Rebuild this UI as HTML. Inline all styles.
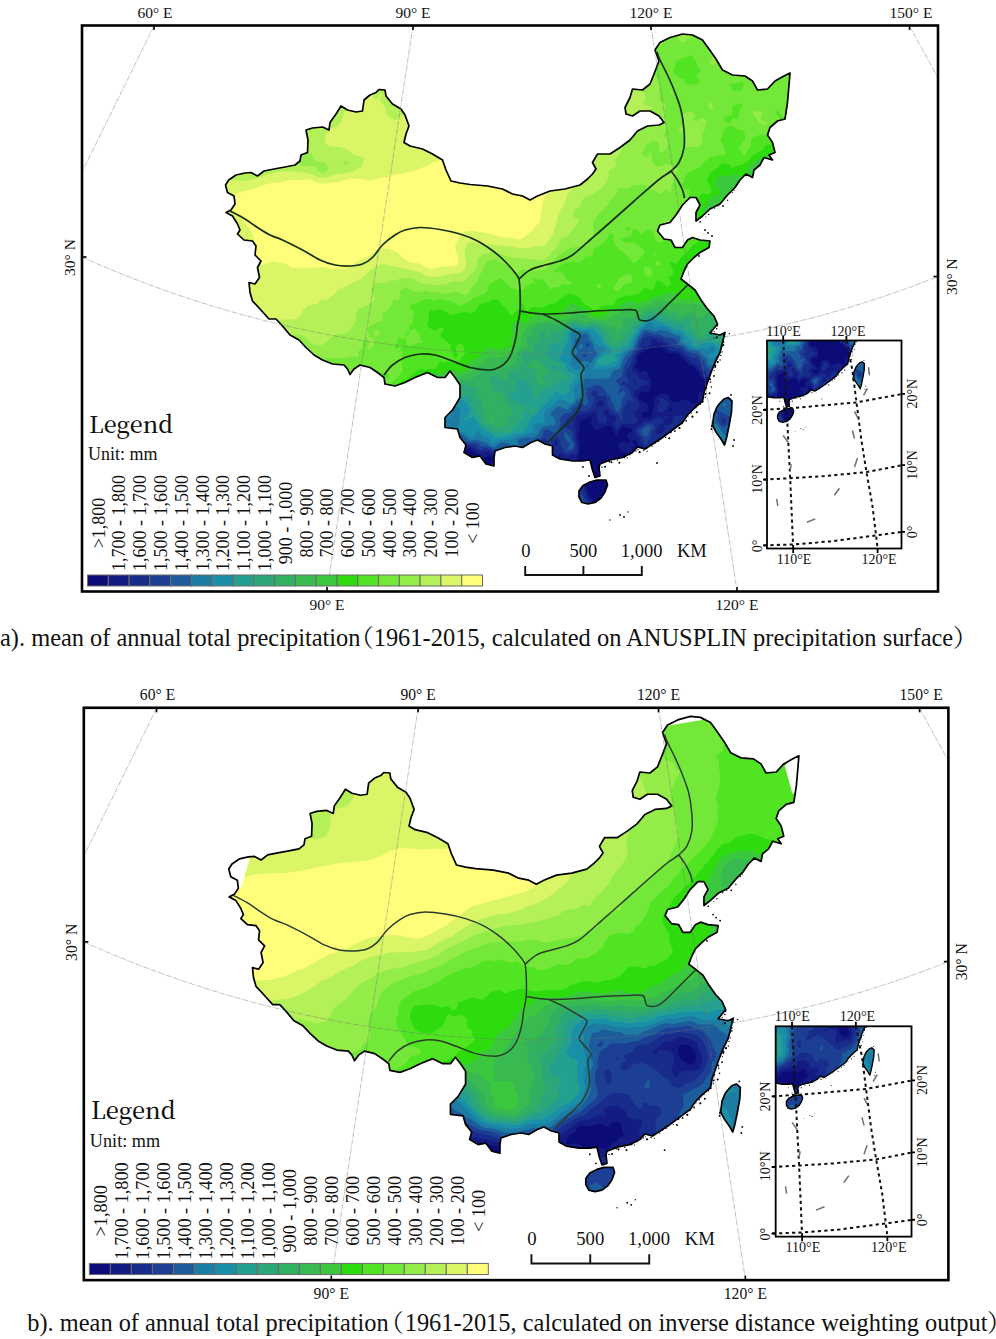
<!DOCTYPE html><html><head><meta charset="utf-8"><title>Precipitation maps</title>
<style>html,body{margin:0;padding:0;background:#fff}svg{display:block}</style></head><body>
<svg width="996" height="1339" viewBox="0 0 996 1339">
<rect width="996" height="1339" fill="#fff"/>
<g><clipPath id="cpA"><path d="M225.5,185 228.7,180 236,175 245,173 251,172.5 257.5,176 264,171 274,169 285,167 295,165 300,161 301,155 307.5,152.5 308,140 306,130 312.5,128 322.5,127 329,130 330,122.5 336,114 341,106 347.5,110 356,112 362.5,111 364,100 370,95 376,92.5 379,89.5 385,90 386,96 392.5,104 401,109 405,115 409,126 406,134 404,142.5 410,146 422.5,149 432.5,154 442.5,160 446,170 451,181 460,183 470,184.5 487.5,186 502.5,189 512.5,194 522.5,196 530,200 537.5,196 550,191 565,189 580,185 587.5,179 592.5,174 596,169 592.5,162.5 597.5,154 610,154 620,147.5 630,140 637.5,131 647.5,126 659,125 664,122.5 659,116 650,111 640,111 632.5,116 626,114 625,107.5 630,97.5 632.5,89 642.5,90 650,84 654,74 659,61 655,50 660,42.5 670,37.5 682.5,34 692.5,35 702.5,40 709,49 716,59 722.5,70 732.5,75 745,76 752.5,81 757.5,90 767.5,89 775,81 784,76 790,73 789,85 787.5,102.5 785,119 777.5,121 770,127.5 767.5,135 772.5,142.5 775,152.5 769,155 772.5,160 764,157.5 760,165 754,170 752.5,177.5 746,174 740,180 735,187.5 727.5,195 720,204 710,209 702.5,216 696,221 696,212.5 700,205 696,197.5 690,197.5 682.5,205 676,215 670,222.5 660,225 657.5,231 664,239 671,240 675,247.5 682.5,247.5 687.5,240 692.5,237.5 700,240 710,241 709,247.5 700,252.5 694,257.5 687.5,264 684,271 681,279 687.5,284 695,290 701,300 707.5,309 714,316 717.5,324 712.5,330 710,333 720,335 725,332.5 722.5,342.5 720,352.5 715,362.5 711,372.5 707.5,382.5 704,392.5 702.5,401 695,407.5 687.5,415 682.5,422.5 672.5,430 662.5,437.5 655,442.5 645,449 637.5,447 632.5,452.5 622.5,457.5 610,460 600,464 599,467.5 600,476 595,477.5 592.5,470 590,460 582.5,461 572.5,461 560,459 552.5,455 552.5,446 545,444 537.5,440 531,442.5 522.5,447.5 515,446 505,447.5 495,451 494,457.5 494,466 486,464 480,456 472.5,457.5 464,452.5 466,445 460,437.5 457.5,429 445,427.5 445,417.5 452.5,410 460,397.5 460,385 455,377.5 450,371 445,377.5 437.5,377.5 427.5,372.5 415,377.5 405,382.5 395,386 385,384 384,377.5 377.5,372.5 370,367.5 360,365 354,369 350,374.5 347.5,369 344,365 332.5,364 322.5,360 314,355 306,347.5 299,340 290,335 282.5,326 276,319 269,319 260,309 252.5,301 250,292.5 249,282.5 255,284 259.5,277.5 257.5,267.5 261,261 255,255 256,246 252.5,241 244,240 237.5,234 240,230 237.5,224 232.5,216 226,212.5 231,210 235,204 234,196 227.5,192.5ZM720,403 724,399 728,397.5 732,401 731.5,412 729,426 726.5,438 724.5,445 721,439 716,432 712.5,425 714,414 717,407ZM579,491 583,485.5 590,482 597,480 606,480 607.5,485 605,492 601,498 595,502.5 588,504 582,502.5 579,497Z"/></clipPath><defs><path id="outA" d="M225.5,185 228.7,180 236,175 245,173 251,172.5 257.5,176 264,171 274,169 285,167 295,165 300,161 301,155 307.5,152.5 308,140 306,130 312.5,128 322.5,127 329,130 330,122.5 336,114 341,106 347.5,110 356,112 362.5,111 364,100 370,95 376,92.5 379,89.5 385,90 386,96 392.5,104 401,109 405,115 409,126 406,134 404,142.5 410,146 422.5,149 432.5,154 442.5,160 446,170 451,181 460,183 470,184.5 487.5,186 502.5,189 512.5,194 522.5,196 530,200 537.5,196 550,191 565,189 580,185 587.5,179 592.5,174 596,169 592.5,162.5 597.5,154 610,154 620,147.5 630,140 637.5,131 647.5,126 659,125 664,122.5 659,116 650,111 640,111 632.5,116 626,114 625,107.5 630,97.5 632.5,89 642.5,90 650,84 654,74 659,61 655,50 660,42.5 670,37.5 682.5,34 692.5,35 702.5,40 709,49 716,59 722.5,70 732.5,75 745,76 752.5,81 757.5,90 767.5,89 775,81 784,76 790,73 789,85 787.5,102.5 785,119 777.5,121 770,127.5 767.5,135 772.5,142.5 775,152.5 769,155 772.5,160 764,157.5 760,165 754,170 752.5,177.5 746,174 740,180 735,187.5 727.5,195 720,204 710,209 702.5,216 696,221 696,212.5 700,205 696,197.5 690,197.5 682.5,205 676,215 670,222.5 660,225 657.5,231 664,239 671,240 675,247.5 682.5,247.5 687.5,240 692.5,237.5 700,240 710,241 709,247.5 700,252.5 694,257.5 687.5,264 684,271 681,279 687.5,284 695,290 701,300 707.5,309 714,316 717.5,324 712.5,330 710,333 720,335 725,332.5 722.5,342.5 720,352.5 715,362.5 711,372.5 707.5,382.5 704,392.5 702.5,401 695,407.5 687.5,415 682.5,422.5 672.5,430 662.5,437.5 655,442.5 645,449 637.5,447 632.5,452.5 622.5,457.5 610,460 600,464 599,467.5 600,476 595,477.5 592.5,470 590,460 582.5,461 572.5,461 560,459 552.5,455 552.5,446 545,444 537.5,440 531,442.5 522.5,447.5 515,446 505,447.5 495,451 494,457.5 494,466 486,464 480,456 472.5,457.5 464,452.5 466,445 460,437.5 457.5,429 445,427.5 445,417.5 452.5,410 460,397.5 460,385 455,377.5 450,371 445,377.5 437.5,377.5 427.5,372.5 415,377.5 405,382.5 395,386 385,384 384,377.5 377.5,372.5 370,367.5 360,365 354,369 350,374.5 347.5,369 344,365 332.5,364 322.5,360 314,355 306,347.5 299,340 290,335 282.5,326 276,319 269,319 260,309 252.5,301 250,292.5 249,282.5 255,284 259.5,277.5 257.5,267.5 261,261 255,255 256,246 252.5,241 244,240 237.5,234 240,230 237.5,224 232.5,216 226,212.5 231,210 235,204 234,196 227.5,192.5ZM720,403 724,399 728,397.5 732,401 731.5,412 729,426 726.5,438 724.5,445 721,439 716,432 712.5,425 714,414 717,407ZM579,491 583,485.5 590,482 597,480 606,480 607.5,485 605,492 601,498 595,502.5 588,504 582,502.5 579,497Z"/></defs><g id="fillA" clip-path="url(#cpA)"><rect x="215" y="25" width="590" height="495" fill="#FEFE7A"/><path fill="#DAF566" d="M215,25 801,25 801,515 215,515ZM469,137.2 467.6,139 469,140.1 469.8,139ZM543,123 537,126.4 535.4,129 535.4,133 534.8,135 531,136.2 529,139 527,139.8 525,138.8 521,138.9 519,138.1 515.4,133 511,132.9 509,132 507,129.9 503,129 498.3,125 495,124.4 491,124.8 487.7,133 482.9,135 482.8,137 486.3,143 483,145.4 481,146.4 477,143.3 473,142.3 469,144.6 465,141.7 461,141 458.9,141 455,143 449,144.8 447.6,143 445,142.3 443.9,143 443.2,145 443.8,151 443.2,153 440.7,159 439,160.7 433,162.1 429,165 421,168.1 415,171.1 407,172.2 403,173.8 397,173.7 389,177.1 381,177.5 375,179.6 369,180.4 361,179 351,178.5 339,181.7 323,183.5 319,183.3 311,179.8 307,179.4 301,180.1 291,179.8 279,182.6 269,183.5 263,185.3 255,188.5 236.7,193 235.1,195 235.8,199 235.6,201 230.7,207 230.2,209 235,215 239,215.9 240.5,217 241.6,219 246.5,225 249,227.1 250.1,229 253.9,237 254,241 251.8,247 254.2,257 258.7,261 261,264.4 263,264.9 273,261.3 275,261.4 287,264.2 291,267.7 293,268.2 301,267.4 307,268.7 313,267.3 317,268.1 323,267.1 329,268.4 345,269.1 349,267.6 355.2,263 361,259.6 371,255.2 375,250.5 387,248.3 389,248.7 397,252.1 401.8,257 409,262.2 419,263.6 429,268.6 431,268.9 441,266.6 451,266.5 455,265.9 457,264.7 458.1,263 458.5,261 455.5,249 455.5,245 457,241.4 460.8,235 465,231.6 467,231 473,230.7 487,233.3 497,235.6 501,237.1 509,237.6 519,239.4 521.3,239 533,230.1 539,222.3 540.6,219 540.8,213 542,209 543,201.4 547,193 547.2,189 550.9,185 550.6,183 547.7,181 547.4,179 549,177.5 553,176 553.7,175 553,171.6 549.9,169 549,165.7 546.9,163 546.8,161 549,157 549.5,155 550.7,147 549.7,141 549.8,137 548.9,129 548.1,127 547.6,123 547,122.3 545,121.8ZM448.9,149 449.2,151 448,151Z"/>
<path fill="#B4F058" d="M215,25 343,25 343.9,29 343.7,35 344.2,37 347,39.4 348.4,51 351.6,55 353,58.9 355,57.6 357,55.4 359,56.5 359.7,59 359.4,63 363,64.8 365.3,69 365,71 363.6,73 363.6,75 365,76 367,75.8 369,75 373,74.3 375,71 381,64.1 383,63.7 386,65 386.6,67 385,71 384.6,75 383,76.6 379,77.9 378,79 378.2,81 381,83.6 385,84.2 389.2,87 390.4,89 390.4,91 389,91.7 388.1,93 388.4,95 389,95.6 391.1,95 391.8,93 391.5,91 395,89.4 397,90.5 398.9,93 401.9,95 403,96.3 405,101 408.1,105 408.1,107 407.2,109 402.3,115 397,119.5 395,120 391,118.1 387,114.9 384.9,107 380.1,101 379.5,99 381.8,95 381,93.5 379,94.3 378.7,97 377.2,99 375,99 373,97.1 372.3,95 365,89.4 360.9,91 353,97.7 351.4,101 350.7,105 347,108.3 344.2,113 341.8,121 339,124.8 337,126.6 331,127.9 329.4,129 325.7,135 324.6,139 324.8,141 325.8,143 329,145.9 333,147 339,146.7 341,147.2 349,150.4 353.9,155 363.2,157 364.2,159 363.9,161 361.1,167 353,171.4 347,172.8 335,174.3 328.6,177 325,177.9 319,177.4 311,174 307,173 295,171.5 285,171.8 281,170.9 263,175.7 257,178.3 245,181 241,181.2 227,179.6 221,180.6 215,179ZM373,75.5 371,77.4 370.3,79 370.4,81 371,82.3 373,82.3 376.4,79 375.1,77ZM358.9,25 372.9,25 377,28.7 379,28.9 383,27.7 383.6,25 448.2,25 449.2,31 448.9,33 447,34.4 443,35.3 439,33.7 437,33.5 435,31.7 433,30.9 426.9,37 425.8,39 425,43.4 423,43.7 417,40.4 415,40.5 410.7,45 409,50.8 407,52.8 405,50.7 403,49.7 401,49.7 398.3,53 397,53.6 395,52.6 393.9,49 393,48 389,45.6 386.1,43 383.4,39 382.9,37 381,35.6 379,36 375,38 371,38.3 365,35 359.8,31 358.8,29ZM488.2,25 489,25 492.7,25 491,27 489,26.4ZM557.1,25 801,25 801,515 215,515 215,279.3 217.3,283 221,286.7 221.6,291 223,292.9 225.6,295 229,299.1 233,300.3 237,304.5 240.9,311 242.2,315 245,318.7 247,319.2 252.6,317 255,314.2 257,313.4 261,314 267,318.8 269,319.2 271,317.9 273,317.7 275,319.9 277,320.3 289,318.9 293,319.7 297,318.2 300.9,315 302.4,313 303,310.5 306.3,307 309,305 317,304 318.7,303 319.8,301 323,299.5 327,299.9 335.7,293 338.2,289 343,288.3 347,285.5 360,279 365,275.7 367.1,273 373,268.2 381,263.9 385,264.2 389,265.5 417,271.3 421,272.7 425,275.6 427,276.2 435,277 439,276.9 445,275 461,272.5 463.4,271 465,269.1 466.2,263 464.8,255 464.8,249 466.2,245 469,242.4 475,242.2 483,245.7 491,244.6 511,246.8 521,248.6 529,247.9 535,246.3 541,246.2 545,245 547.3,243 553,233.8 556,225 557.7,217 560.9,209 564,205 564.8,203 565.5,199 566.9,195 570.1,191 573,188.5 575.7,187 579,184.1 585,182.1 586.1,181 587,179 587.2,177 586.5,169 587.6,167 591,165 589.7,161 590.1,159 591.2,157 594.1,155 595.2,153 592.9,149 601.2,141 600.5,139 598.1,137 597.8,135 599,133 601,131.6 605,130.9 607,129.4 605.5,123 607.8,119 606.4,115 607.1,111 606.3,109 605,107.4 603.6,107 603,105.9 602.4,107 601,107.4 599,107.5 598.7,107 599,105 601,103.8 603,104.4 603.9,103 604.8,99 604.5,97 603,94.6 599,94.7 597.1,93 596.6,89 595.5,87 591,84.2 585,83.4 583,83.4 579,86.7 577,86.4 567.1,81 563,77 565,74 569,70.5 571,63 571,59 571.9,57 573,55.2 575,53.9 577,54.2 579,53.2 580.7,49 579.1,47 577,46.7 573,49.5 567.4,45 565.9,41 566.5,35 565,33 563,32.3 559.3,29 557.8,27ZM321,306.6 320.7,307 321,308.5 321.2,307ZM441.6,41 443,39.6 443.7,41 443,44 441.7,43ZM428.4,51 431,50 435,49.5 436.5,51 435.6,53 433,55.5 431,55.2 429,53.4ZM396.5,85 397.6,85 398.2,87 397,88.5 396,87ZM423.5,91 425,90.3 427,90.5 428.7,95 428.8,97 427,98.8 425,99.6 421,100 419.5,101 419.4,103 418.2,105 417,105.4 416.1,105 415,104.3 412.9,101 412.5,99 413,95.9 419,97.2Z"/>
<path fill="#94EC48" d="M612.5,27 614.5,25 801,25 801,515 215,515 215,358 219,358.8 221,357.7 222,355 222.4,351 223.5,349 231,342.8 237,345 238.4,347 237.3,351 237.9,353 241,355.5 245,357.7 248.9,359 251,360.5 253,360.5 254.1,359 254.1,357 252.7,355 252.3,353 252,351 253,349.8 255,350 255.9,351 256.5,353 256.3,355 257.1,357 259,358.4 261,358.8 263,358.4 265,357.7 267,355.7 269,351.9 271,350.2 277,349.8 281,347.2 285,346.9 287,345.7 288.8,343 291.3,337 293,335.8 297,334.8 303,335.9 305,336.8 309,340.9 315,344.8 322.3,345 335,334.4 345,333.9 347,332.7 351,329 355.7,321 356.3,313 356.8,311 358.2,309 368,305 373.4,301 375.1,299 374.4,297 371.5,293 371.2,291 371.5,289 373.1,285 375,283.6 379,282.7 385,283 391,280.3 393,279.9 395,280.9 397,280.5 398.7,279 401,278.2 405,278.4 409,277.5 413,278.4 421,283.4 423,284 429,283.6 435,285.4 447,284.3 451,281.8 453,281.4 461,282 467,279.6 468.4,277 475,270.3 476.4,267 477.5,259 479,257.2 482.6,255 491,252.6 499,253.4 513,257.9 521,258 533,259.6 535,259.4 541,261 545,259.7 552.7,251 555,249.4 557,247 559.3,243 561,238.6 563,237.1 567,236.8 573,229.8 577.8,223 578.7,221 577.5,219 574.3,217 573,215.3 573,214.5 574.3,211 579.6,207 582,201 586,197 591,195.1 603,187 607.9,179 609,177 609.2,175 608.5,171 615.1,167 616.5,165 615.2,161 615.6,159 619.1,155 625.3,141 627,138.4 632.5,135 633.9,133 634.4,129 634,127 631.7,123 631.4,119 639,113.9 649,112.1 650.4,111 651,109.4 651,106.8 649,105.8 644.3,105 643.3,103 645.1,101 645.9,99 645.4,97 642.1,91 643,89.3 645,88.8 646.1,87 646.1,83 645.2,81 640.8,79 638.5,73 635,69.2 631,63.5 629,64.2 627,62.9 625,57 621,50.2 617.9,47 617.7,43 617,41.5 613,39 612.6,37 608.7,29ZM255,365.1 253.6,367 253.3,369 253.6,371 255,371.7 257,371.2 259.6,369 260.2,367 257,365.2ZM215,95 215,93.5 216.7,95 216.4,99 217.2,103 216,105 215,105.4ZM215,117 217,118.4 221,124 225,125.9 227,126 231,123.7 233,123.9 237,126.1 245,126.7 251,128.4 255,128.8 261,127.6 263,127.8 265.4,129 265,130 261,131.5 257,134 253,133.8 250.7,135 248.6,143 249.1,145 248.8,147 247,149.1 245,150.1 243,148.2 241,148.4 239,150.4 233,154 231,152 229,151.5 227,156.8 225,156.5 223,154.7 221,155.3 218.9,153 215,151.9ZM262.8,139 265,138.2 266.9,139 270.6,143 271,145 269.2,147 267,147.9 262.4,141ZM273.1,145 275,143.7 281,145 287,145.3 289,147.3 291,147.3 293,146.3 295,146.1 301,148.2 307,151.1 312.1,155 315,160.5 317,161.3 323,161.8 325,162.8 328.1,167 328.1,169 325,172.3 323,173.1 321,172.8 318.1,171 315,167 313,165.9 305,166.4 303,166.1 300.3,165 297,161.7 295,160.5 291,160.5 287,161.5 283,160.6 279,158.9 273,160.3 270.9,159 271,157 273.5,151ZM240.9,157 243,156.6 245,159 245.1,161 243,162 239.8,161 239.5,159ZM343.5,163 345,161.3 347,161.7 347.8,163 347,165.3 345,165.4 344.3,165Z"/>
<path fill="#74E838" d="M668.2,25 679.5,25 679.3,27 681.4,33 678.2,37 677.9,39 679,41.2 685,42.3 687.7,39 691.3,37 692.4,35 692,29 690,25 697.5,25 696.9,29 698.6,33 702.4,39 705,40.8 706.2,39 705.8,35 706.3,33 709.4,29 713.7,25 801,25 801,515 215,515 215,390.3 217,390.1 219.4,389 219.7,387 219.3,385 220.2,383 225,381.3 229,379 233,379.7 237,378.9 239,381 239.3,385 241,387 243,387.8 245,387.8 246.3,387 247.4,383 255,382.8 259.3,381 267,379.2 271,375.4 273,374.7 285,374.3 287,373.1 289,369.2 291.6,367 292,365 293.4,363 297,362.6 299,363.4 301.9,365 305,368 307,366.8 311,367.7 313,367 315,362.6 317,361.2 329,357.2 333,358.4 337,357.5 341,359 349,356.5 357.7,357 358.6,355 358,353 358.7,351 360.9,349 362,347 362.5,343 363.3,341 365,339 367,338.3 369.4,343 369,345 367.6,347 367.6,349 369,350.1 372.4,347 373.7,345 374.6,341 373.6,339 368.9,337 367.8,329 368.5,327 377,322 381,321.9 382.4,321 382.9,319 382.3,315 383.1,313 389.2,309 391.9,305 393,301.1 395,299.9 397,300.6 399,300.4 399.8,299 400.3,291 402.7,289 407,287.6 411,290.4 417,292 427,290.5 431,292 437,292.3 445,293.8 447,293.7 453,291.9 457,291.9 465.4,295 467,294.4 468.5,293 470,291 471.7,287 477.1,281 478.7,277 482.3,271 485,263.7 489,260.4 493,259.2 495,259.1 497,260 499,262 505,263.8 508.9,267 510.3,269 512.7,271 517,273.1 521,269.9 523,269.5 537,270.8 545,268.9 547.8,267 554.8,259 567,249.4 573,247.6 585,246.1 587,244.9 591,239.3 593.5,237 593.8,231 593.1,225 593.7,221 599,213.5 605,207.2 608.1,205 611,199.4 614,197 616.4,193 617.9,189 619,187.7 621,187.4 627,189 629,188 631,186.2 633,185.4 643,184.7 647,186 651,189.5 655,190.8 661,193.8 665,189.4 667,189.3 669,191.5 671,192.4 671.5,189 671.2,185 674.8,179 675.2,175 677.8,169 677,166.1 675,164.9 671,166.1 667,164.1 665,164 661,166.2 657,166.6 654.7,165 652.2,161 651.2,157 651.6,155 651.5,153 651,152.4 649,152.9 648.6,155 647,157 645,157 643,155.8 641.9,153 644.3,149 644.6,147 646.3,145 651,141.6 653,140.9 657,142.1 659,143.9 659.6,145 658.7,149 659,151 661,152.5 663,152 667.5,147 667.9,139 667,137.9 664,137 663.7,135 665.4,131 666.3,125 665.1,121 665.3,117 664.2,111 665.5,107 665,104.9 663,102.5 660.4,101 659.4,99 659.7,95 659.1,89 660.2,85 657.2,81 653.4,69 652.8,67 654.2,63 651,55 651.2,53 652.1,51 654.2,49 658.8,47 667,39.8 668.7,39 669.4,33 668.1,27ZM671,90.4 670.3,91 669.8,93 671,95.1 672.8,93ZM687,112.1 681.6,115 681.1,117 683.2,121 683.2,123 681.9,125 678.8,127 678.6,129 684.1,137 684.2,145 685,146.8 687,147.2 691,146.5 697,147.8 699,147.3 702.3,143 703,141 701.6,137 701.7,135 702.4,133 705.1,129 705.2,125 706.7,121 705,118.9 701,117.5 697.9,121 695,121 692.8,119 695.1,115 693.8,113 691,111.2ZM707,42 706.5,43 706.8,45 709,51.3 711.6,55 712.3,57 712,59 709.8,61 709.5,63 711,64.7 713,65.1 716.4,63 718.2,59 718.2,57 717,54.4 714.3,51 715.4,47 714.5,45 711,42.5ZM755,110.1 753,111.5 752.4,113 754.9,117 760.1,123 763,125 765,125.5 766.3,125 767,123.9 767,122.5 765,121.1 761,120 760.3,119 762,113 761,111.2 757,111.2ZM375,330.9 373.6,333 374.3,335 377,336.2 379,334.8 379.5,333 379,331.1 377,329.9ZM665,220.6 664.1,223 664.3,225 665,226.1 667.5,227 669,226.6 670.9,225 671,223 669,221.3 667,220.2ZM709,100.9 708.6,107 711,109.5 713,109.3 713.2,107 711.9,105 711,101Z"/>
<path fill="#50E422" d="M769.2,25 782.6,25 785,28.2 787,28.6 791,27.7 791.8,31 790.7,33 791,33.5 793,33.2 795,31.8 797,31.4 801,32 801,47.7 797,48.6 795,48 793,46.3 791,45.7 787,47.5 785,46.6 782.5,43 781,41.8 779,41.9 777,43.3 773,48.9 769,45 768.8,39 766.7,35 766.5,33 768.8,29ZM783,32.1 781.4,33 779.9,35 780.7,37 783,37 784.9,35 785,33ZM733.7,45 735,44.6 735,47.7 733,50.1 731,49.6 730.9,49ZM746.6,49 749,48.6 751.2,51 751,53.7 749.9,57 747,59.7 743,60.2 741.3,61 739,66.3 737,67.1 733,65.2 731.5,61 731.5,59 733,56.5 735,56.6 737,58 739,58.4 740.8,53ZM691,55 693,57 693.3,59 696.1,61 697,65.7 697.6,67 699.9,69 700.3,71 697.2,75 696.8,77 697,77.7 699.2,79 700,81 699,83 695,84.4 689,84.5 687,83.9 685.8,83 683,78.6 681,78.6 675,74.4 673.6,73 672.9,71 675.2,67 675.6,65 675.2,63 675.9,61ZM767.9,57 769,55.8 771,55.2 777,55.5 779.2,57 779.2,61 781,61.9 785,62 785.7,63 785.5,65 783.5,67 777,68.3 776.5,73 771,81 765.8,77 764.9,75 764.8,69 766.2,61ZM746.7,73 747.7,75 747,79.6 746.3,79 746,75ZM800.4,73 801,72.8 801,515 215,515 215,462.9 219.1,461 220,459 219.3,453 217,451.2 215,450.8 215,399.5 221,398.7 227,396.3 229,396.2 233,397.2 235,396.8 239,394.7 241,394.5 243.6,395 247,397.1 249,397.5 251,397.2 253.9,395 259,392.4 261,392.7 266.5,395 271,400.1 273,401 277,399.3 279,399.4 282.6,401 285,403.2 291,404.5 293.9,403 295.5,401 300.1,397 303,392 309,391.1 315,392 321,385.2 325,381.9 328,373 331,371.4 335,370.3 343,371.8 351,374.4 365,380.5 367,380.8 371,376.7 373,375.9 377,373.1 385,373.9 387,373.2 389,373.8 389.4,375 389,378 385,379.3 383,380.8 379,381.5 377,383 379,384.3 383,383.9 387,384.5 391,384.1 392.2,383 392.8,381 395,379.7 402.8,371 402.8,369 401.8,367 401.5,359 403,353 401.3,349 401.5,345 401,344 398,345 399.1,347 397,349 395,347.7 394.8,345 397,343.5 397.8,339 399,337.9 403,339.3 404.5,339 404.8,335 409,331 409,327 409.7,325 413.2,323 413.2,321 412.4,319 414,313 413.7,311 410.6,309 409.2,307 411.1,305 419,302.4 425,299 429,299 435,300.8 439,298.8 441,298.9 445,300.2 449,300.5 459,305.5 461,305.5 469,301.8 473,298.5 485.9,293 487.4,291 488,287 489,285 491,283.2 499,278.8 501,278.8 511,288.4 515,289.1 519,291.1 523,289.3 527,285.8 531,283.4 535.5,283 533,280.2 533,278.3 535,278.1 537,279.4 541,279.6 543.6,281 547,283.5 549.4,289 551,289.1 555,286.9 559,287.1 563,284 570.4,285 571,284.6 571.5,283 567,279.8 563,273.2 561,271.9 559,271.4 555,272.4 554.2,271 557,269 560.9,265 564.8,263 573,261.3 575,261.4 579,262.8 584.4,259 585,256.7 587,256 589,256.6 591,256.4 593.4,253 594.2,249 599,246.4 605.3,241 607,239 609,234.3 611,233.4 613.6,235 614.1,237 613.2,241 615,244.9 619,249.6 623,252.1 628.7,257 633,263 635,263.1 636.5,261 641.3,257 643.8,253 644.3,251 643.3,249 638.2,245 633,242.3 627,242.5 623,241.6 620.4,239 621,238.3 627,237.6 631,235.6 632.2,233 631.8,231 635,229 637,229.5 638.9,231 640.4,233 641,235.6 642.3,233 647,229.6 649,229.4 651.8,231 654.7,235 655,240.9 661,242.4 663,241.4 664.1,239 669,238.1 671,236.3 677,234.7 678.4,233 679,228.9 681,226.6 683,225.4 687,225.7 688.7,225 689.1,223 687.5,219 687.6,215 687,212.3 682.7,211 683.3,209 685,208.7 687,209.3 689,207.7 689.7,205 688.6,197 689.6,193 689.5,191 689,189.9 685,188.8 683.2,187 682.3,185 682.7,183 684,181 685,176.3 691.7,171 700.8,167 705,160.9 709,159 711,156.8 715,156.6 719,155.1 723,155.1 725,154.1 725.9,153 725.6,151 723.8,149 723,144.6 720.5,141 723,132.6 726.7,127 729,125.5 733,126.4 736.1,129 743,129.9 743.9,131 745.3,137 745.2,139 741.9,143 741,145.1 739,147.5 738.5,149 739,149.6 741,149.7 741.8,153 743,154.6 745,154.9 747.3,151 750.7,147 750.7,141 752.9,137 757,136.1 761,134.2 765,134.9 769,134.5 770.4,133 771,131 773,128.8 777,128.1 779,127 779.9,125 779.9,123 778.8,117 775,112.6 777,110 782.5,117 785,118.1 787,117.5 789.8,113 793.4,111 796,105 797.5,103 797.9,101 795.9,97 800.4,93 800.7,91 796.2,85 799.7,81 799.7,79 798.2,77 798,75ZM227,453.9 226.2,455 229,456.3 230.6,455 229,453.7ZM233,460.6 231.8,463 233,464.2 233.8,463 234,461ZM245,424.6 245,427.3 247,428.3 249,427.7 249.5,427 248.8,425 247,424.4ZM411,330.4 409.1,331 409.4,333 409,333.8 407,336 405.2,337 405.1,339 406.7,345 409,346.3 417,343.5 421.9,343 422.1,341 421,340.3 420.4,339 419.8,335 419,333.7 415,329.3 413,329.1ZM597,284.4 596.5,285 597,287.3 599,288.4 601.4,287 600.7,285 599,284.3ZM627,274.2 621.6,277 619,277.7 616.9,283 613.2,287 613.5,289 617,290.8 619,290.7 621.8,287 624.2,285 627,283.7 631,282.9 632.4,281 632.5,279 631.4,275 629,273.8ZM647,266.7 645,267.3 644.1,269 644.3,273 647,276.3 649,276.9 651.9,275 652.2,273 651,268.9 649,267ZM655,252.8 654.4,253 654,255 655,255.9 656,255ZM657,261.3 655.6,263 656.4,265 659,265.9 660.1,265 660.5,263 659,261.3ZM229,468.6 227,469.2 226.5,471 227,473.5 229,474.7 231.2,473 231,471ZM737.9,83 741,81.8 743,81.9 743.7,83 743.7,85 742.6,89 741,90.8 737,90.5 735,91.1 733,90.4 730.5,85 731,83.5 735,83.8ZM770,83 771,81 772.6,83 771,85.1ZM732.9,103 733.7,105 735,105.6 737,104 739,103.3 741,103.6 742.2,105 741.9,107 739.3,111 738.6,117 737,118.7 733,118.1 731.4,121 729,123.7 727,123.3 723.9,121 723.5,119 725,117.1 727,115.8 729,115.8 731,116.5 732.6,111 732.3,107ZM738.4,121 739,120.3 739.5,121 739,123.1ZM626.6,227 627,226.6 629.2,227 630.5,229 629,230.7 627,230.3 624.9,229Z"/>
<path fill="#2EDC0E" d="M800.8,113 801,515 215,515 215,488.4 219,486.5 222.7,483 229,479.6 235,478.6 236.6,477 238.8,473 241.4,471 245,466.2 247,464.6 249,463.7 251,463.8 251.7,463 252.6,461 249,459.8 245.8,457 245.3,455 246.2,449 249.9,443 253,441.5 254.9,439 255.7,433 258.4,429 259,422.2 261,420.1 271,418.5 272.4,417 271.7,415 272.5,413 275,412 277,412.3 279,413.8 281,414.5 283,413.7 287,410.9 293,410.9 301,409.4 309,410 312.7,413 315,412.9 317,411.7 319.5,409 325,399.1 327,393.4 329,389.6 331,388.1 335.2,387 335.2,383 337,380.6 340.4,383 345,382.9 349,386.9 363,392.9 365,393.5 369,393.6 373,396.1 381,392.7 383,392.9 385,395.9 387,396.8 393,395.1 395.9,393 397.5,391 399,384.2 401,381.4 411,376.3 412.6,375 414,373 419,369.6 421,369.2 425,370 429,368.7 433,369.1 435,368.7 437.2,367 439,362.2 441,361.4 445,363.1 447,361.7 449,361.5 451,362.2 455,361.4 459,362.2 460.4,359 464.1,355 464.8,353 464.7,351 462.5,345 461,344 459,344 457,345.2 456.2,347 456,351 457.6,355 456.9,357 455,358.2 453.8,357 453.2,355 453.4,353 450.6,349 450.8,345 440.9,337 440.4,335 443,331 443.4,329 443,327.9 441,327.5 437.8,329 437,330.2 435,330.3 431,328.9 428.5,327 427.6,323 429,319 428.6,313 429.3,311 431,310.1 435,310.6 439,309.3 441,309.4 447.8,313 449,314.2 453,315.1 459,312.7 467,312 471,313.2 475,311.7 477.3,307 479.6,305 485,302.4 489,301.9 493,299.4 495,299.5 499,300.1 501.8,305 505.1,307 506.8,309 509,313.5 511,315.2 513,314.6 514,313 518.7,309 521,303.3 523,303.8 523.9,305 524.7,309 527,311.2 531,307.7 533,306.9 541,307.6 545,306.6 549,304.3 555,303.4 561,298.3 566.3,295 569,294.2 573,294.6 578.5,297 581,299 583.1,303 585,304.6 589,306.5 593,309.7 595,309.9 598,309 601,306.4 609,305 613,305.4 614,305 615,303.5 615.6,301 617.1,299 625,295.7 633,295.3 639,293.8 645,287.6 647,287.7 648.7,289 651,289.7 653,289.2 655.7,285 655.3,283 656,281 657,280.6 659,280.5 661,281.4 663,282.9 665,285.5 667,286.6 669,286.1 670.2,285 670.9,283 668.6,277 671.9,275 673.4,273 673.1,271 669.9,263 671,261.6 675,263.7 677,263.7 681,257 683,255.2 685,254.6 693,245.1 696.6,243 698.5,241 698,237 696,233 696.1,231 697,229.6 699,228.1 703,228.2 704.3,227 703.7,225 699,222.3 696,219 695.2,217 694.7,211 695.1,209 698.9,205 699.2,203 698.3,199 698.8,197 703,192.7 705,193.4 707,195.1 709,194.3 711.5,191 711.2,189 709.5,185 709.4,183 707,182.1 706.7,181 708.2,177 710.6,173 713,170.6 718.8,167 721,164.3 723,163.5 729,164 731,167.8 733,167.8 737,165.6 741,164.9 747,162.2 751,157 753,155.3 759,151.6 761,151.2 763,149.5 765,146 767,144.7 771,144.4 776.6,139 781.3,133 785,130.5 789.1,129 795,124.4 798.2,119 799,114.9ZM705,230 703.2,233 705,235 707.2,233 706.3,231ZM215,467 217.8,469 220.5,473 220.3,475 219,477.5 217,478.9 215,479.2Z"/>
<path fill="#3CC83E" d="M798.1,133 801,131.3 801,515 215,515 215,498.1 217,499.1 219,498.6 222,493 229,489 233,484.1 238.6,481 249,472.3 255,471.5 258.6,467 261.6,465 262.1,463 261,460.7 259,459.1 257.6,453 259,449.7 261,450 262.9,453 263,455.3 265,454.4 267,454.3 277,457 281,459.7 283,460.5 285,460.6 289,458.8 291,458.5 295,454.1 299.9,451 303,447.4 306.5,445 305.9,443 301,440 297,440.9 295,440.3 293.8,439 288.7,433 287.8,431 288.6,427 287.2,425 283,424.3 281.8,423 281.7,421 283.3,419 285,418.1 291,419.4 295,417.7 297,415.7 299,415.9 299.8,417 300.3,421 301,422.1 303,422.9 307,423 309,424.3 311.2,427 315,428.8 319,428.4 324.1,423 323.7,419 326.8,405 329,404 331,404.6 333,404.1 337.6,399 340.1,395 343,392.4 349,392.8 353,397 355,397.9 359,399 363,401.1 367,401.5 371,403 373,402.9 379,400.5 381,400.3 385,403 387,403.4 388.2,403 391,401.1 395,399.4 399,396.5 400.3,395 403,389.8 407.1,387 412.6,381 417,378.9 422.8,375 429,374.8 435,373.3 441,373.1 447,371.2 453,370.8 459,371.7 465,370.3 467.5,369 468.4,365 471,361 473,359.6 475.5,359 479,357 481.8,353 487,347.8 489,347.2 495,348.7 501,349.1 503,348.8 507,346.7 513,346 513.9,345 514.3,343 510.8,341 510.5,339 513.3,337 514.2,335 511.6,329 512,325 513.3,323 515,322.2 519,321.9 527,322.3 528.7,321 529,319 531,317 537.5,315 543,314 544.8,315 545,317 547,317.6 549.9,317 555,314.6 561,315.9 563,315.4 564,313 563,311 562.8,309 565,308.4 571,302.9 573,303.1 581,307.9 587,309.7 591,314.5 593,315.9 601,316.7 605,315.8 607.8,313 609,310.6 617,308.8 621,304.6 629,300.9 631,300.6 635,303 637,303.3 641,301.7 649,299.7 653,297.2 657,295.7 667,293.6 671,292.1 673,292 675.5,293 676.6,297 679.3,299 691,299.7 697,301.1 701.8,301 703.1,299 702.7,297 699,290.8 695.3,289 697,287 702.8,287 704.2,285 701,284.4 699,281.9 697.5,279 697,274.5 695.6,275 694.5,279 691,281.5 689,280.9 684.1,277 682.9,275 683.4,273 686.6,269 687,267.8 688.4,267 689,266.9 691,268.6 693,269.1 696,269 699,270.5 703.2,269 706.2,265 708.3,257 712.5,249 714,243 713.2,239 714,235 713.8,229 711.6,223 707,215.3 702,211 705.3,207 708.5,201 715,195.8 719,194.6 720.5,193 720.5,191 719.1,189 715.9,187 715.6,185 716.1,181 717,179.2 721,174.9 727,176.2 735,174.2 738.4,175 743,179.9 745,179.8 747,178.4 747.9,177 747,171 747.7,169 751,164.5 753,162.7 759,159.1 769.8,155 772.8,151 779.9,147 783,142.5 787,142.4 789,141.3 790.5,139 791.7,135 793,133.8ZM721,197.1 719.1,199 719.9,201 721,201.6 722.2,201 722.6,199Z"/>
<path fill="#38BA50" d="M779.6,157 781,155.9 785.8,161 787,161.8 789,162 791,159.9 793,159 801,158.3 801,515 241.2,515 243,511.6 244.2,511 245.6,509 245.4,505 249,502.3 251,501.3 253.2,501 251,499 250.9,497 259,497.1 264.3,493 265.1,491 265,487 267,481 269,480.2 273,480.1 273.8,479 273.6,477 271.4,473 271.7,471 273,469.7 281,467.5 285,470.6 287,470.6 291,468.9 295,469.6 296.5,469 299,461.5 303,457.9 305,457.1 307.4,455 313,442.4 317,442.3 321,441.3 325,441.5 326.1,441 327,429 329.6,423 331,414.7 333,412.4 337,411.4 343,408.2 349,403.3 351,402.5 353.1,403 352.7,407 353.3,409 355,411.3 357,412.1 359,411.8 361,409.7 363,409.3 367,410.2 371,409.1 377,406.4 381,405.7 389,408.5 391,408.4 393,407.1 395,404.8 399.7,403 405,398.2 407,395.2 413,388.7 419,386.2 421.8,383 427,380.1 431,379.6 437,376.6 443,377.3 449,376.5 453,377.3 459,377.3 463,375.1 469.9,373 472.2,371 473.8,367 475,366.2 479,365.5 485.8,359 493,356.6 497,358.1 499,358.2 503,355.7 513,354.1 515,352.2 518.2,347 520.9,345 521.5,343 520.9,339 523.5,331 525,329 533,323.6 537,321.7 557,319.6 563,320.5 565,320 570,317 575,312 577,311.7 580.3,315 585.8,315 587,315.4 591,319 595,318.9 601,320.4 605,320.3 607,319.8 609,318.2 615,315 619,314.4 621.4,311 625,308.7 629,308.3 637,309.9 639,309 641,307.2 649,304.4 655,300.6 657,300.1 661,300.7 665,300.6 669,302 681,304.5 697,304.2 703,305.5 709,300.6 713,301.8 715,301.6 715.6,301 715.4,297 719,294.7 725,295.4 727,294.7 729.8,291 728.7,287 729,285 731,284.9 733,286.2 735,286.4 739,285.6 741.7,283 739,280.5 737,280 735,280.2 730.5,277 729,276.7 723,277.3 719,276.4 716.2,271 715.7,269 716.2,265 715,263.1 714.9,261 717,260.2 719,261.8 719.4,261 719,251 721,242.3 723,238.6 725,238.9 727,238.1 728,237 729.2,235 729.3,233 728.3,231 729.3,229 731,227.8 741,234 743,233.8 743.5,233 743,228.1 744.3,225 744.5,223 743,222 741,222.1 735,226.1 733,226.6 731,225.2 726.1,217 725.5,215 725.4,213 728.8,205 731,203.7 735,202.8 736.3,201 737.2,195 734.8,193 733.9,191 734.4,189 735,188 737,187.7 740.1,189 739.9,191 738.1,193 739,193.7 747,193.6 749,192.7 751,189.7 753.8,187 754.1,181 752.9,173 753.6,171 757,169 759,168.5 760,169 760.7,171 761.4,175 763,176.4 767,175.4 768.6,173 768.5,169 771,166.7 774.1,161 777,158.4ZM247,510.2 246.1,511 247,511.4 248.5,511ZM743,202.6 742.4,205 742.6,209 741.4,211 741.1,213 741.5,215 743,217 745.1,215 745.5,213 745.2,209 746.1,207 749,205.8 751,207 751.1,205 750.5,203 749,201.7ZM753,241.7 751.4,243 753,250.7 755,251.9 755.7,253 755.6,259 753,260.1 750.2,259 748.5,257 748.2,255 747,253.6 739,254.1 737.7,255 737,257 737.4,261 736.2,265 737,267 741,271 741.3,273 743,275.5 747,275.4 751,277.8 755,278.1 759,279.9 761,279.8 762.1,279 763.2,277 759.5,273 758.5,271 758.5,269 761,267.9 767,267.2 769,265.9 771,263.1 773,257.5 777,255.8 777.9,255 777,252.7 775,252.6 772.2,253 767,255.7 765,255.2 757.8,251 758.2,249 759.5,247 759,245.2 755,243.4ZM765,240.2 763.7,241 763.7,243 765,243.7 767,243.2 766.9,241ZM765,296.8 764.4,299 765,299.6 767,300.1 768.3,299 768.2,297 767,296ZM769,342.1 767.2,343 766.4,345 765.4,349 767,349.8 769,349 771,347.2 772.3,345 771.7,343ZM244,487 247,485.5 249,485.7 250.5,487 250.3,489 248.7,493 247,494.9 245,495.1 243.8,497 242.2,503 237.6,507 237,510.5 235.4,515 234.6,515 234.7,511 233,509.2 227,509.5 226.2,509 225.6,507 227.8,505 233.2,503 234.9,501 235.2,499 237.9,495 237,492.7 237,490.3 238.9,489 241,488.8ZM215,507 219,506 221,506.6 225,512.5 227.4,515 215,515Z"/>
<path fill="#30B060" d="M779.1,169 781,168.2 785,169.6 789,169.1 793,170.1 797,169.5 801,170.8 801,242.9 797,242.2 793,243.5 787,246.8 785,250.8 783,251.5 781.4,249 781.6,247 780.7,245 779,243.6 776.5,243 775.9,241 779,238.5 781,239.5 783,242.2 785,242.2 786.2,239 789,226.6 785.9,225 784.5,223 783,222 779,221.9 775,220.3 771,219.9 767,217.6 765.6,215 765,211.8 759.1,205 757,201 761.9,193 760.9,187 762.1,185 770.4,181 773,177.5 776.4,175 777.7,171ZM732.7,215 735,214.5 735.7,215 735.8,217 735,217.6 733.1,217ZM750.4,215 751,214.4 755,215.2 759,214.5 760.7,215 761.6,217 762.1,221 767,225.1 769,225.6 771,224.7 773,225.1 776.7,231 776.6,233 775,234.9 773,235.4 769,233 767,233 763,234.4 761,234.3 759.4,233 758.7,231 760.8,225 759.1,223 757,222.9 755,221.7 753,219.1 750.4,217ZM800.1,257 801,256.6 801,260.6 799,260.1 798.7,259ZM790.7,261 797.3,261 797.5,265 799,266.8 801,266.2 801,515 256,515 259.4,507 263,503.3 270.6,493 270,489 270.3,487 271,486 273,485.2 279,484.9 285,487.9 291,489.3 299,488 301,485.2 301.4,483 300.3,479 303,477.2 307,478.3 311,477.7 315,479.1 321,479.8 323.7,479 324.3,477 323.1,475 321,473.7 317,475 313.4,473 312.3,471 312.7,467 311,464.6 307.8,463 314.1,451 315.6,447 317,445.8 321,444.8 328.3,447 331,446.1 333.7,439 332.1,435 333,426.3 335,422.4 336.3,421 343,417.4 345,414.6 347,414.3 349,414.8 351,416.5 351.5,423 353,424.2 357,424.2 361,425.2 363,424.5 367,420.6 369,419.8 373,420 375,418.5 377,415 379,413.5 385,412.1 389,412.5 393,413.7 395,412.9 395.8,411 398.3,409 407,406.1 408.8,405 410.6,403 411.7,399 419.2,393 423,388.4 429,384.6 433,382.9 437,380 441,381.1 445,380.6 447,380.9 449,382.4 451,382.8 465,379 471,379.5 481.2,373 483,370 485,368.4 499,370.2 501,369.6 503,367.7 505,366.8 507,366.7 511,365.2 514.4,363 515.5,359 518.3,353 519.9,351 523,348.4 527.3,347 528.5,345 526.5,339 530.1,335 532.4,329 537,325.1 539,324.3 549,323.6 553,324.2 557,325.6 561,323.7 565,323.3 571,320.2 575,318.8 577,319.2 583,322.2 595,320.8 599,322.6 605,324 609,326.5 615,327.6 617,329.8 619,329.7 622,327 623,318.6 625,317.5 627,318 633,317.7 637,315.5 641,314.5 645,311.5 649,309.5 653,308.5 659,305.7 663,305.6 671,313.8 674.7,311 677,310.5 678.6,313 679.1,315 681,316.1 683,316.1 685.6,315 689,312.1 691,311.8 693,312.8 694.4,315 697,317.3 699,318.2 701,318.2 705.5,315 707,313.7 711,307.5 713,307.5 717.3,311 717.4,313 715.3,315 714.5,317 719,318.2 720,319 719.7,321 716.2,327 717,329 719,330.8 721,331.3 733.4,331 736.6,333 737,336 737.8,335 737.3,333 738.1,331 743.5,329 745.7,327 745,325 743,323.9 742.5,323 741.2,319 740,317 740.3,315 741.6,313 741,312 739,312.4 735,312 733,313.6 731,317 729,317.6 727,316.8 723.2,311 722.2,309 723.3,307 727,301.9 731,299.2 733,298.7 737,300.5 741,293.7 743,292.9 747,293.6 749.4,293 751.2,291 751,289 752.3,287 755,285.5 761,286.4 761.9,287 762.7,289 762.4,293 759.7,299 759.1,303 761.1,305 765,306.7 767,306.6 770.3,305 772,299 771.8,295 773,293.6 777.5,293 779.3,291 779.4,289 777,285 776.3,281 777.3,275 778.3,273 781,269.9 783.4,263ZM337,428.1 336.6,431 337,431.7 339,433.2 341,432.1 341.9,431 339,427.1ZM491,415.8 490.1,417 490.1,419 491,419.8 492.1,419 493.3,417ZM749,330.8 747,334 743,334.6 740.2,337 741,337.2 744.3,341 745,342.8 749,337 753,335.6 753.4,335 753.5,331 753,330 751,329.5ZM779,310.7 775,312.4 771,312.8 769,315.8 766,319 765.5,321 767.8,329 767.2,331 763.2,335 765.5,337 765.7,339 763,342.2 759.3,345 759,347 759.5,349 761,351.5 767,354.2 769,353.6 773,348.9 778.3,345 779.1,343 776.4,339 781,334 783,330.8 785,330 787,330.4 788.8,329 789,325 787,324.6 785,325 783,324.3 782.1,323 782.3,321 783.4,319 780.5,315ZM789,320.9 788.6,323 789,325 793,323.1 794.2,321 793,319.6ZM726.7,269 727,267.8 729,268.1 729,269.1 727,269.8ZM302,467 303,465.9 305,465.5 306.8,467 305.9,469 305,469.3 303,468.4Z"/>
<path fill="#2CA878" d="M783.3,179 787,178 793,177.8 801,178.8 801,231 799,228.8 795.7,223 790.4,219 787,213 786,207 785,205.6 781,204.3 779,202.2 777,201.8 775,202.9 773,201.8 771,199 770.6,197 771.9,193 775,189.1 776.7,185 781.5,183ZM790.2,271 793,270.7 801,274 801,288.5 799,289 797.7,291 793,293.3 791,297 789,297.8 786.4,297 785.5,295 786.7,291 786.6,289 784.6,285 784.2,281 785.2,277 787,273.5 789,271.4ZM746.4,307 747,306.5 749.7,307 750.1,309 749.6,311 752.2,313 751.9,315 749,317.6 747.3,317 747,316.2 747.3,313 745.9,309ZM753.6,309 755,307.6 758.4,309 761.1,311 761,313.6 759,315.3 755.8,315 753.7,313ZM648.2,313 651,312.4 655,313.1 659,312.2 661,312.6 663,313.2 667.6,317 673,318.2 677,320.2 679,320.5 687,318.2 689,318.6 689.7,319 691.8,327 695,332.7 699,336.4 701,337.3 703,336.9 704.9,335 707,330.7 709,329.3 711,328.9 713,329.9 717,333.9 721,336.2 725,336.4 729,334.4 731,334.3 737,342.3 741,343.6 743.3,351 745,352 751,352.4 754.7,355 755,357.1 757,354.8 761,357.1 765,357.8 771,362.4 773,362.9 777,362.6 779,361.4 782.7,357 783.5,355 783.3,353 781.3,351 781,349 783,347.8 785,347.9 787,348.9 788.5,347 785.5,341 786,339 789,337.9 791,336 794.3,327 799,322.3 801,322.1 801,515 791.2,515 790.6,513 787,512.2 785,512.7 784.2,515 357.4,515 355.8,509 355,507.9 351,504.7 349.1,501 343,493 341,492.1 339,491.9 338.2,493 339.1,495 339,498.2 337,500.6 334.9,501 337,502.3 342,509 342.6,511 342.3,513 341.1,515 259.9,515 263,513.1 267.5,503 269,500.8 273,497.3 275,496.2 277,496.3 281,500.4 285,498.1 289,498.5 293,495.4 299,495.4 303,493 304.1,491 305,487.6 309,485.6 310,483 311,482.3 315,484.4 319,485.1 319.8,487 319,489.1 317,489.9 316,491 316.2,493 319.1,497 321,498.4 323,499.2 325,499.1 325.9,497 325.9,493 327,491.9 329,491.1 331,491.2 333,490.5 333.6,489 333.2,485 329,479 328.4,475 327.5,473 320.5,467 320.7,465 323,462.5 326.1,461 325.2,459 318.5,455 318.4,453 319,451.9 321,450.9 329,451.5 335,449.7 336,449 336.9,447 337.4,443 339,440.5 343,438.3 345,438.3 347,439.7 349,439.9 351,438 353,434.8 357,431.8 365,431.8 371,432.8 373,431.7 375,428.9 380.6,427 383,424.4 387,422.6 391,419.3 397,417.5 401,412.6 409,410.2 413,407.1 417,405 416.2,401 417,400.1 419,398.8 423,398.6 425,397.8 431,389.4 437,386.2 441,386.7 445,386 448.1,387 453,389.9 457,387 461,387.5 461.6,385 463,384.1 465,384.1 469,385.9 473,386.4 475,387.3 476.7,389 476.7,391 475.5,395 476.5,397 481,399.7 481.9,401 480.9,405 481,407 483.1,409 485,413.6 485.9,421 489,424 491,424.8 495,425 499,426.9 505,425.8 506.2,425 507.3,423 507.8,421 507.3,419 513.9,413 513.2,411 510.3,409 505,401.8 503.6,401 504.4,397 503,394.5 499,391.5 495,392.1 493,391 491.4,383 489.6,379 491,376.8 493,376 495,375.9 501,379.9 505,379.1 507,379.8 508.5,379 507.8,375 508.8,373 515,368.8 519.7,367 523.5,363 523.7,361 521.4,357 520.9,355 523,351.9 525,350.6 527,350.6 531,353.3 533.6,353 534.4,351 533.4,345 534.1,343 539.2,341 540.2,339 539.2,335 539.7,333 541,331.1 543,331.3 544.9,333 546.6,337 549,338.3 551.1,337 550,333 550.1,329 551,328.8 555,331.7 557,332 563,329.1 569,323.8 573,322.2 577,322.7 583,325.3 585,325.4 593,323.2 595,323.2 599,325.6 603.3,327 607,331.5 609.4,333 610.8,335 611.4,339 611.1,341 612,343 613,343.3 621,340.3 622.8,339 623.1,337 622.4,335 623,333.5 629,330.6 629.8,329 630.2,325 631,324 635,322.8 641,320 643,318.3 645,315ZM769,388.2 766.1,391 766.4,393 771,395.5 773,396 775,394.6 775.9,393 775.6,391 773,388.4 771,387.7ZM445,392.5 444.6,393 445.7,395 447.7,395ZM533,360.3 527.3,365 527.6,367 529,367.8 533,368.2 535,369.1 536.4,371 536,377 536.8,381 539,383.7 541,385 543,384.7 544.8,383 544.1,381 542.3,379 542.9,377 545,374.4 549.3,373 543.5,367 542.6,365 539,362.3 537,359.3 535,359.1ZM757.3,327 759,326.6 759.5,327 759.3,329ZM503,417 505,417.9 506.5,419 503,419.4 502.5,419Z"/>
<path fill="#24A090" d="M784.1,187 787,186.5 789,187.3 792,191 793,197 792.6,199 791,200.5 789,200.7 787,199.5 781,198.3 778.6,197 777.4,195 779.9,189ZM796.4,199 799,198.9 801,200.7 801,201.4 799,202.9 797,203.6 795,206.8 793,207.2 790.8,205 791,202.6 794.8,201ZM788.8,279 791,277.2 791.4,279 791,281.7 789,282ZM647.1,317 649,315.8 653,315.5 659,317.6 663,321 667,320.5 669.9,321 674.4,323 677,325.1 679,325.3 681,323.9 683,323.7 684.2,325 685,329 687,331.2 689,331.6 690.9,333 693.5,337 697,340.1 699,340.9 707,339.9 708.6,339 711,336.1 713,336.7 715.9,341 719,343.2 721,343.2 725,341.5 727,341.6 729,342.7 731,344.2 737,350.9 739,354.2 741,355.8 749,357 752.8,363 752.2,367 753,369.5 755,368.4 757,368.2 761,368.9 763,368.4 765,368.7 766.3,371 765,373 759.5,375 758,377 756.6,387 753.5,391 755.2,393 760.7,395 762.1,397 767,398.7 771,402.2 777,404.4 781,403.4 783.5,401 783.9,399 781,395.5 781,394.7 783,394.4 785,396.3 787,395.9 789,394.7 791.8,389 793.5,387 794.5,385 794.3,383 793,380.9 787,377.8 777,384.3 771,382.2 768.8,381 769.3,377 767.4,373 769,372.5 773,369.6 775,371 776.3,373 779,374.2 784.9,371 785,368.1 782.5,365 782.7,363 785,360.4 786.5,361 787,363.2 789,363 794.1,361 795.2,359 793.4,351 793.8,349 795.5,347 796.1,345 795.5,343 793,339 793.3,337 795,333.4 797,331.7 801,331.1 801,349 799.3,351 798.5,353 799.3,355 801,356 801,468 799,467.8 797.8,469 796,475 796.6,477 798.7,481 799.3,485 801,486.4 801,515 795.7,515 795.3,511 793,508.6 792.6,507 792.8,505 791.5,503 789,501.2 787,501.1 785,502.5 783,505.9 779,510.5 777.6,513 777.3,515 372.5,515 370,511 367,504.5 365.3,505 365.8,509 365,510.1 363,509.1 361,506.3 360.5,505 361,504 363,503.4 365,504.6 365.4,503 363.7,499 361,495.7 359,494.7 355,494.5 349,492.5 347,490.6 340.8,487 339,485.1 337,484 333.4,479 333,477 335.9,473 332.5,469 332.4,467 334.3,463 335.8,461 340,459 341,457 340,453 341,450.7 343,450.1 347,450.4 349,449.4 350.3,445 355,438.1 357,436.7 359,436.4 371,437.3 379,435.5 383,432.2 387,431.8 389.7,429 390.9,425 393,422.5 397,422.1 407,414.7 409,414.1 419,413.6 419.6,413 420.4,409 431,401.7 433,397.7 435,396.5 439,395.8 441,396.1 445,397.8 449,398.2 456,397 459,395.7 463,395.3 465,395.4 469,397.2 471,398.6 472.4,401 472.2,405 474.4,411 477.3,415 481.3,423 483,424.5 487,426.7 493,432.1 495,432.5 503,431.8 507,432.6 509,432.4 511,431.4 515.1,427 517.4,423 523,419 523.8,417 522.6,415 522.6,413 525,411 526.3,409 526.4,407 525,404.4 521,404.7 517,401.4 511,398.4 508.8,395 509,392.4 511,391.7 513,392 515,391.5 517,389.7 517,387 516.3,385 517,380.9 519,379.9 525,380.4 525.9,381 528.8,385 531.4,387 532,389 531.7,393 532.2,397 533,398.8 535,399 537,398 539.5,393 541.2,391 545,389 549,388.3 553,384.7 555,384 559,381.2 565,380.5 567.3,379 567.2,377 561.7,373 559,369 555,369.7 550,367 550.1,365 553,363.7 557,366.7 558.2,367 559,368.8 560.2,365 559.3,363 557,361.5 555,361.7 551,359 547,357.2 545.6,353 546.8,351 549,350.3 550,349 550.2,345 551,343.7 553,342.7 557,343.2 559,342.9 561.8,341 563.4,335 571,325.8 573,324.8 575,324.8 583,327.6 585,327.5 591,325.9 595,326.3 599.7,329 602.1,333 604.2,335 605.8,341 606.9,343 608.9,345 613,347.4 617,348.3 621,345.2 625,343.1 627.7,339 631,335.6 633.9,331 635.5,327 637.9,325 643,322.1ZM753,412.9 752.3,417 752.3,419 753,420 755,420.9 757,421 759,420.9 761,419.8 762.2,417 761,413.8 759,412.8 755,412.5ZM353,454.7 350.5,457 350,459 353,462.5 355,462.6 359.7,459 360.3,457 357.8,455ZM369,446.7 368.2,449 368.3,451 369,451.8 371,451.4 372.8,449 371,446.8ZM533,406.4 530.1,409 529,411.8 527.7,413 529,413.4 532.1,413 534.5,411 535.4,409 535.6,407 535,406.3ZM514.9,375 517,373.8 517.5,375 517,376.5 515,375.5ZM305.8,495 307,493.8 309,493.2 315,498.8 315.8,501 317,502.4 321,502.9 321.6,505 323,506.2 329,507.6 331.1,509 331.9,513 333.5,515 299.2,515 299,513 297.9,511 298,509 299,507.8 301,507.5 303,510.6 305,510.5 308.9,507 310.9,503 311.3,501 311,500.2 309,499 305,499.6 303,499.5 302.5,499 303.7,497ZM287.6,505 289,504.2 291,504.6 294.8,509 295.8,511 293,514.5 292.6,515 279.3,515 287.5,507Z"/>
<path fill="#1A90A8" d="M648.9,319 651,318.1 655,318.8 661,323.6 667,325 673,328 675,329.7 681,330.6 683,331.8 687,336.9 690.7,339 693,345 695,346.3 697,346.5 703,343.4 705,343.1 709,343.6 713,343 717,345.6 718.4,347 719.2,349 721,350.3 723.4,351 725,355.1 729,357.2 731.8,357 733,355.9 735,356.7 739,360.2 744.6,363 746.5,365 746.9,367 747,373 745.6,375 746.5,377 750.5,381 751.8,385 749.6,393 751,395.7 755.6,397 756.9,399 756.9,401 755.6,403 756.7,407 751,409.6 749.9,411 747.8,419 747.9,421 748.7,423 751,424.4 755,425.5 764.1,423 766.7,419 766.8,417 765,415.3 763.5,411 763.6,409 765,407.7 771,410.4 773,410.7 775,409.9 779,407 781,406.9 784.2,409 785.6,409 788.3,407 790.3,401 793.8,397 794.4,395 794.3,391 795,389.7 797,388.9 801,392.3 801,463.5 797,462.6 795,463.3 793.4,465 793.9,469 793,473 793.1,479 789.5,483 786.1,489 788.2,493 788.4,495 787.3,497 784.5,499 781,503.6 779,505.2 777,505.7 775.4,505 773.7,503 772.3,503 772.2,505 771,507 769,507.6 767.7,509 767.7,511 768.8,513 773.1,515 379,515 378.1,513 377.6,509 376.7,507 375,505 371.5,503 367.3,499 367,497 369.4,495 370.6,493 370.8,491 364.1,483 365,481 368.6,479 370.2,477 370.5,473 369,470.3 367,470.2 363,471.7 359,470.8 357.8,469 357.6,467 358.7,465 361,463.7 367,457.3 373,455.4 376.1,453 376.8,451 376.3,445 381,438.5 399,431.7 401,429.6 406.5,427 409,421.9 413,420.6 417,418.5 421,418.1 425,413.7 427,412.5 431,412.4 438.3,407 441,403.4 443,402.1 453,400.7 457,400.6 461,399.4 467.2,403 469.6,409 469.8,411 468.6,413 467.5,417 464.1,419 465,421.1 469,418.3 473,417 477,421 478.3,425 479,425.8 485,430.8 489,432.3 493,436.6 495,437.5 499,437.6 509,435.8 515,433.1 521,432.9 524.1,431 525,429.1 528.1,427 528.9,423 531,417.5 537,414.4 538.7,411 543,406.3 550,399 553.4,397 555,392.6 557,391.9 561,394.4 563,394.9 567,393.6 569,391.4 569.3,387 573.3,381 575.5,375 573,373.2 569,372.1 567.8,371 565.4,363 561.1,361 559.7,359 560.4,357 562,355 563.7,347 567,344.1 568.3,341 568.5,339 567.9,335 569.6,331 571,329.2 573,328 575,327.8 583,329.6 589,328.6 591.5,329 595,330.8 597,332.5 598.5,335 601.2,337 603.4,343 610.8,349 611.7,351 610.9,353 605,355.1 603,356.7 599,358.8 597.5,361 597,363 598.2,365 605,365.5 606.8,365 609,363.3 613,362.3 615.6,361 616.9,359 616.6,357 614.6,355 615,354.5 619,353.5 623,349 628.3,347 629,345.8 629.4,343 633,338.4 634.4,335 637,331.9 639,327.7 643,324.9ZM691,452.6 688.8,455 687.9,457 691,465.8 693,467.1 699,468 701,469.3 703,471.7 705,472.4 707,472.4 709,471.6 712.1,465 708.7,461 707.5,457 703,458.4 697,454.1 695,451.9 693,451ZM713,431.8 712.7,433 713,433.3 713.4,433ZM739,452.8 738.5,455 739,456.7 741,458.5 742.6,457 743.3,455 741,452.6ZM773,421.8 771.8,423 773,425.4 775,426.1 777.2,425 777.1,423 775,421.9ZM781,451.5 779,455.5 777.7,457 779,457.9 783,457.6 785,456.9 786.3,455 785.9,453 783,451.5ZM791,440.7 790.6,443 791,443.3 791.4,443ZM407,478.7 405.9,479 405,481 407,482.9 409.2,483 411,482.3 412,481 411,479ZM777,462.5 776.3,465 777.1,467 779,468.1 781,468 783,467.2 785,465 783,463.5 779,461.9ZM796.2,337 797,336 799,336.4 801,337.8 801,344.1 799,343.2 797,340.4 796.2,339ZM728.7,349 729.2,349 730.7,351 731,353.3 728.1,351ZM800.4,361 801,360.3 801,364.1 800.4,363ZM800.1,369 801,367.6 801,372.4 800.1,371ZM355.9,449 359,447.7 361.1,449 360.2,451 359,451.6 356.4,451ZM343.4,471 345,470 349,470.4 351.5,473 351,473.8 349,474.5 345,474.8 343,473.1ZM798.6,493 801,493.6 801,499.7 799.7,499 799,497.9 798.1,495ZM800.3,507 801,506.4 801,515 799,515ZM311.7,511 319,509.8 325,510.2 326.5,511 327.8,515 306.2,515 309,512.2Z"/>
<path fill="#1C7CA4" d="M648.1,323 649,322.2 651,321.9 652,323 653,326.7 655,327.8 659,326.7 664.1,327 671,329.7 675,332.8 681,333.7 682.7,335 683.8,337 682.7,341 683,341.7 687,343.5 691.3,347 695,348.8 697,349 703,348.2 707,349.3 709,348.5 711,346.7 713,346.3 714.8,347 715.5,349 713,352.9 711,353.7 708.9,353 708.5,355 709.2,357 711,359.5 715,355.9 719,354.7 721,355.4 727,360.9 731,362 735,364.6 739,363.6 742.1,365 742.3,367 740.7,371 740.6,375 739,379 737.7,385 737.8,387 739,389.4 744.8,391 742,399 741.8,401 742.3,407 743,408.3 746.2,411 746.2,413 745,415 742.1,417 741.3,419 741.6,421 742.8,423 749.4,427 751.2,429 751.7,433 753,435.8 759,438.5 763,439.6 765,441.3 766.1,445 763.7,451 763.3,453 764,455 765,455.5 769,453.4 771.2,455 770.7,459 769,460.6 765,461.6 762.7,463 761,464.9 758.2,459 756.6,457 753,455.1 749,456.9 747.3,455 746.8,453 745.5,451 739,448.6 731,448.8 725,445.3 723,445 721,447.1 715,450.2 705,452.9 703,452.4 698.8,449 693,446.6 691,448.1 689,451 684.7,455 683.9,461 682.1,465 683,467.8 687,469.7 688.5,471 691,475.5 693,476.4 695,476.3 699,474.6 701.5,477 703,480.2 705,480.7 707,480.2 711,477.4 713,476.8 713.9,473 715.4,471 719,468 725.8,467 726.7,465 725.7,463 727,462 731,462 733,463.1 737,467.1 741,468.4 742.8,471 745,472 752.7,471 755.8,469 759,465.5 761,465.2 761.9,469 764.5,471 767,470.7 771,468.8 773,469.6 776,473 776.6,477 781.6,487 778.6,491 778.9,493 781,493.3 783.2,495 779.7,499 779,499.5 767,499.6 757,503.7 755,502.6 753,497.7 751,497.2 745,500.6 743,500.2 742.3,499 742.1,497 743.2,495 743,494.1 737,493.5 735,494.8 732.7,499 733,501 735,504.1 737,506.1 738.9,507 739,509 740,511 743,512.9 749.5,513 751.5,515 697.6,515 694.9,505 687,498.7 685,499.1 683.3,501 683.2,503 685.2,507 686.2,513 687.3,515 382.1,515 382.1,513 385.2,509 383,507.5 381,507.2 379,505.5 377.7,503 375.6,495 375.6,493 377.3,489 377,486 376.5,487 375,487.9 373,487 370.8,483 374.1,479 374.6,477 374.6,471 376.7,465 382,463 383.7,461 383.4,459 381,454.3 379,447 379.6,445 383,441.8 385,441.3 389,441.5 391,440.2 395,438.8 397,436.7 401,435.4 409,430.8 415,424.2 417,423.4 421,423.9 425,418.3 443,409 445.2,409 447.4,411 447,417 449,418.4 450.3,417 450.8,413 451.8,411 455,407.2 457,406.9 459,407.5 459.8,409 459.9,415 459.1,419 460,423 459.5,425 457.6,427 456.7,429 457.5,431 464.9,433 471,437.3 473.6,437 475.9,433 479,431.2 483,436.8 487,437.5 489,439.2 491.7,443 493,443.8 499,440.4 501,439.8 509,439.7 511.3,439 515,436.9 532.2,433 533.3,431 533.2,427 533.8,425 535,423.9 543,423 545.2,421 543.8,415 544,413 546.5,409 551,407.5 553,405 559,399.7 561,399.3 569,402.5 571,402.7 573,401.8 573.5,401 573.9,397 575,395.3 575.8,395 573.2,391 573.3,389 575,386.4 580.5,381 581,379 583.6,375 584.3,373 584.2,371 583,369.5 581,368.9 577,369.5 575,369.2 569.8,365 569.5,363 571,359.7 571.4,357 571,355.3 569.3,353 571,349 571.3,339 570.7,335 571,333 572.7,331 579,330.9 587,331.4 589,332.1 591.1,335 592.6,339 595,343 597,345.2 605.9,349 596.1,359 593.3,367 593,369.4 609,368.5 615,366.6 617,365.2 619.4,361 620.8,357 623.6,353 625.5,351 630.3,349 632.1,347 633.2,343 636,337 639,333 640.9,329 645,326.6ZM671,510.4 670,511 670.1,513 671,514.1 673,513.5 673,511.9ZM713,426.5 711,427.7 708.8,431 708.2,435 707.3,437 702.7,439 703,441.6 705,442.8 707,443 709,442.3 711,438.9 713,438.7 717,440.5 719,440 721.3,437 720.6,435 717,431 715.4,427ZM689,482.4 687,484 687,486.1 689,486.1 689.7,485 690.6,483ZM707,484.1 705.6,487 704.1,493 704.3,495 707,496.2 711,494.9 713,495.4 715,498.8 717.5,499 719,497 719,495 717,486.5 715,484.6 709,483.7ZM391,459.6 389.6,461 391,461.7 391.2,461ZM405,474.2 403,475.5 402.1,477 402,481 403,483.4 405,485.3 413,485.6 413.9,485 415,481 414.6,477 413.6,475 409,473.8ZM419,470.7 417,471.9 416.6,473 419,474.9 423,476 424.7,481 426.9,483 429,482.8 432.3,481 431,480.4 428.6,475 427,474.2 423,474.9 421,474.7ZM551,470.6 550.2,471 551,473.3 552,473 552.5,471ZM798.5,409 801,408.5 801,446.7 800,445 799.6,441 799,439.8 795,436.2 792.6,433 793.8,429 793.4,427 789,424.2 785.7,421 784.7,419 785.1,415 786.3,413 789,411.6 793,411.6ZM763.9,427 767,425.5 769,426 769.9,427 769.6,429 767,430.2 765,429.8 763.9,429ZM793.8,453 795,452.2 797,453 799.2,455 798.9,457 793,459.7 791.2,459 792.1,455ZM756.3,513 757,512.7 757.2,515 756.2,515Z"/>
<path fill="#1C5C9C" d="M642.1,331 643,330.2 647,329.4 655,331.6 661,329.7 669,332.2 673,334.8 679,336.2 680.4,337 679.7,341 680,343 685,345.6 688.4,349 695,350.8 699,351.1 701,352.1 702.7,355 706.9,359 709,365.4 711,365.6 715,362.4 717,362.2 719,363.2 723,367.2 729,365.7 733.4,369 735.3,373 734.9,377 735.6,381 735.5,383 733.8,387 735,388.1 737.7,393 738,395 737,396.6 735,397.4 734.2,399 734.9,405 735.6,407 737.5,409 739.6,413 737.4,419 737.6,423 741,426.1 743.4,427 746.3,429 747.5,431 749.1,437 750.7,439 754.3,441 754.6,443 753,446.9 751,448.1 749,447.4 747,445.9 745,445.5 743,445.9 739,443.6 733,442.5 729,435.6 725,434.9 723,433.5 717.4,425 715,423.9 711,424.9 707,427.7 702.6,429 701,431.3 697,431.8 690.1,435 689.8,437 687,439 685.5,441 685.5,449 683.6,451 680.5,453 681.8,459 679.1,465 678.8,467 681.1,471 680.6,479 681.1,481 682.5,483 682.5,485 681,485.9 677,485.9 674.4,487 670.5,491 670.3,495 665,497 664.5,499 665.5,501 665.6,503 663.9,507 665.5,511 665.9,515 572.5,515 571,513.5 569,513.4 567.3,515 415.1,515 414.4,509 413,507.4 411.7,507 407,507.5 403.1,511 401,511.7 399,511 397.2,509 395,508.1 391,508.2 389,507.8 388.4,507 388.4,505 389,504.3 391,502.3 393,501.5 397,500.7 405,502.3 405,498.6 403,496.2 402.6,493 403.4,491 405,489.2 407,488.2 409,488.2 411.1,489 411.8,491 410.5,493 410.1,495 414.7,497 417.5,499 417.7,501 419,503.5 422,501 422.2,499 421.2,497 421.9,495 426,491 426,489 427,487.6 429,487.7 431,488.6 433,488.6 435,487 436.3,485 437.2,481 436.5,473 435.8,471 435,470.2 431,469.7 430,469 428.6,465 423,462.5 417.8,461 416.6,461 414.3,463 413.2,467 411,468.9 405,468.2 403,468.5 399,473.4 396.6,475 396.6,477 398.7,481 400.1,487 399,490 397,491.7 395,492.1 393,491.5 390.3,489 389.1,487 388.8,481 384.9,471 388,469 393,468 394.3,467 394.2,463 395,458.9 398.9,455 399.1,453 398.3,451 395.4,449 394.1,447 393.6,445 395,443.3 399,441.6 401.8,439 405,437.6 407,438 409.4,441 411,442.1 417,440.2 419,440.1 423,442.1 425.9,441 426.8,439 425.8,437 425,436.4 421,436.5 417.4,431 418.1,429 421,428.5 423,427.5 425.8,425 429.9,419 437,415.7 439,415.3 441,415.7 442.7,417 443.3,419 443,421.1 442.2,423 439.7,425 438.8,427 439.6,431 443,434.5 445,432.5 449,431.4 450.4,433 450.5,437 451,437.6 453,438 455.9,437 457.4,435 461,434.4 463,434.9 469,440 471,440.5 477,439.2 483,442.1 487,443.3 491,446.4 493,447.3 495.1,447 501,442.8 503,442.4 509,443.2 511.1,445 510.8,449 512,451 513,452 515,451.6 519.3,449 519.8,447 517.6,443 517.5,441 519,439 527,437 533,438.1 539,433.6 539.4,431 540.6,429 543,427.1 551,424.8 553,425.8 554.7,425 555.4,423 554.8,419 553.3,417 550.6,415 550.4,413 553.4,411 556.8,407 559,406.6 567,409.6 568.4,409 569.2,407 571,405.3 575,403.3 577,399.3 581,398.3 582.2,397 581.2,393 581.3,391 583.4,385 583.8,381 585,378.6 587,378 591,379.3 595,378.6 599,379.5 601,378.2 603,378.1 607,379 609,378.3 610.1,377 613,370.9 615,370 619,369.8 624.1,357 627.5,353 633.2,349 634.4,347 637.3,339ZM657,506.7 655,508.6 653.2,509 659,509.8 661.2,509 660.3,507 659,506.5ZM671,472.7 670.1,473 671,474.1 671.7,473ZM695,424.9 694.7,427 697,430.5 699,430 699.9,429 699.9,427 699,423.5 697,423.2ZM723,403.2 722.6,405 725.1,407 725.7,405 725,403.1ZM731,386 729.6,387 731.8,387ZM733,424.4 732.3,425 732.3,427 733,427.3 733.9,427 735.2,425ZM543,466.1 537,470.3 536.5,471 537,471.7 545,474.2 549,477 553,475.4 555.1,473 555.1,471 553,468.6 547,465.9 545,465.5ZM581.2,335 583,333.9 585,333.6 587,334.1 587.9,335 588.9,339 592.4,343 593.6,349 597.2,353 596.7,355 593.2,359 591,362.7 589,363 587.4,361 585,360.5 581,361.7 579,361.5 577,360.9 574.7,359 575,356.6 577.4,353 577.7,351 576.8,349 575,347.5 574.1,345 575,337.4 577,338.5 579,338.6ZM581,343.7 579.7,345 578.8,347 578.9,349 581,349.2 582.9,347 582.7,345ZM586.6,365 587,364.5 588.4,365 587.9,367 587,368 586.1,367ZM800.2,423 801,422.9 801,433.4 798.6,431 797.8,427 797.8,425 799,423.2ZM729.5,469 731,468.1 733,468.3 735.6,473 737,474.4 739,475 739.7,477 737,480.1 735,480.2 733,477.1 731,476.2 729,477.7 727.3,481 725,482.1 723,482.2 721.8,481 718.3,475 718.2,473 721,471.2 727,470.9ZM749,475 753,474.6 757.7,477 763,478.9 764.9,483 764.8,485 763.8,487 755,491.9 753,491.8 751.1,491 750.5,489 747.8,485 748.2,483 747.4,481 745.5,479 746.2,477ZM418,481 419,480.3 421,481.1 423,483.2 424.7,487 423,487.7 421,487.7 419,486.8 417.5,485 417,483ZM768.3,485 771,483.7 776.1,487 774.8,491 774.8,495 773.5,497 771,497.2 767,496.4 765.1,495 763.6,493 763.2,491 763.9,489ZM382,489 383,488 385,488.6 385.5,489 385.3,491 383,492.6 380.9,491ZM680.9,493 682.1,493 681.9,495 681,495.6 680.2,495ZM723.2,495 725,493.7 725.9,495 725,495.9ZM675.8,499 677,498.4 677,500.1ZM703.6,503 705,501.9 707,501.4 711,501.9 713,503 721,501.4 723,501.8 728.7,505 728.8,507 727.6,511 724.8,515 707.5,515 707,514.6 703,515 701,514.4 699.1,511 698.9,509 699.1,507 701,504.8ZM674.7,507 677,505.1 679,505.7 682.4,511 682.6,515 675.8,515 675.9,511Z"/>
<path fill="#1C3F94" d="M643.9,333 645,332.4 647,332.5 655,334.4 659,333.9 663,336.4 667,338.1 673,338.1 675,338.8 676.7,341 678,345 683,346.9 687,351.3 691,353 697,353.9 699,355.4 704.4,361 706,367 709,369.6 711,369.5 715,366.9 717,366.7 718.4,369 720.7,377 722.6,379 725,379.8 729,377.6 731,378.2 731.5,379 731.1,381 729,381.4 727,383.2 724,389 726.2,393 725,396.4 719,399.5 711,401.8 709.9,403 709.8,405 711,406.3 713,406.5 715,407.5 719,411.3 729,416.3 730.7,419 730.4,421 727,425.4 725,426.8 723,426.8 721,425.8 716.3,419 717,418.6 717.8,415 717,413.5 707,416.7 703,419.6 701,419.9 697,419.3 692.6,423 691,426.1 687,427.2 685.8,429 684.4,433 683,434.7 679.2,437 679.8,441 681.5,445 681,446.3 680.1,447 677,447.3 675,446.7 671,444.1 669,444.4 668.4,445 666.8,449 665.2,451 664.6,453 665,453.8 667,456.5 671,453.1 673,453.3 677.2,457 678.4,459 677.9,461 675,465.9 673,467.6 669.9,467 669,466.3 667,467.3 665,470.4 663.9,475 665.2,479 664.4,481 664.5,483 667,484.3 667.2,485 665,493 661.4,497 660.9,501 659.4,503 653,505.1 647.5,509 646.3,515 641.7,515 640,513 639.2,511 640.5,507 639,505.1 635,504.1 634.3,503 634,499 633,497.2 631,497.1 629.8,499 629.4,501 629.7,505 628.8,509 629.2,511 628.6,513 626.9,515 580.6,515 579.2,513 578.8,511 580.1,507 581,505.9 585,505 584.6,503 581,498.2 578.7,499 579,503.4 577,504.8 575,505.4 571,508.9 569,507.1 567.7,503 567,502.4 563.3,505 562.3,507 563.8,511 560.9,515 425.3,515 425,513 422.4,507 423.1,505 425,503.6 431,501.6 433.5,493 439.1,485 441,479 440.2,475 440,469 431,460.2 427,459.8 425,458.7 421,458.5 417,457.2 415,458.1 411,462.4 409,463 405.5,455 407,452.4 410.7,451 411.9,449 412.3,447 415,446.4 419,448.1 421,447.8 427,444.8 433,438.9 435.1,441 436,443 436,445 437,445.3 437.5,443 441,441.9 443.7,439 445,438.4 447,438.9 451,442.1 453,442.1 461,440.1 465,441.6 471,443 475,442.2 477,442.4 481,446.6 487,445.9 493,449.3 505,449.5 507,450.4 511.8,455 513,455.8 515,455.9 521,452.8 523.9,449 525,448.3 531,449.2 538.5,445 536.8,443 536.3,441 537.5,439 541.4,437 542.8,435 543.9,431 545,429.9 547,429.6 555.2,433 557,431.4 559.7,427 560.5,423 559.7,419 560.6,417 565,413.2 569,413.4 571,412.1 573,407.5 577.7,405 579,401.6 581,402.1 585,405.7 587,405.1 588.6,401 586,395 587,391 587,387.9 589,387.2 591,387.8 595,385.1 599,385.5 603,387.6 605,391 610.2,397 611,400.1 615.1,409 617,411.3 619,411 621.7,405 622.1,399 625,395.7 625.6,393 625,391.7 623,391 621,391.7 619,393.6 617.5,393 619.9,389 619.8,387 619,385 615.6,381 617.3,379 621.1,377 623.2,371 623.3,367 626.3,363 627.5,359 629.5,357 631.9,353 635.8,349 639,340.2ZM647,426.6 642.5,429 641,431 641.6,433 643,435 645,436.4 647,436.2 648.1,435 650.5,427 649,425.9ZM667,458.2 665,459.4 663.9,461 667,465.8 669,463.6 670.4,461ZM435,448.3 434.9,449 435,450.2 435.2,449ZM541,462.9 539,465.7 537.5,467 535,467.7 534,469 533.8,471 534.6,473 537,474.6 539,475.1 541.3,477 541.3,479 540.6,481 541,482.2 543,483 549,482.5 552.1,479 558.8,473 558.5,471 551,464.2 543,462.2ZM547,446.9 545,447.4 543,449 545,451.1 547,451.6 549.1,449 549,446.8ZM565,431.7 564.1,433 564.8,439 569.5,443 569.6,445 569,446.2 566.3,449 567,449.6 569,449.7 571,449.3 573,448 573.8,445 573,442.8 571.6,441 570.5,437ZM557,484.6 556.1,487 553.6,489 553,491.1 555,491.7 561.6,489 560.5,487ZM586.9,343 589,343.3 589.7,345 587,348.1 586,347 586,345ZM583,355 585,354.1 586.9,355 586.1,357 582.2,357ZM430.2,427 431,425.8 433,425.1 434.9,427 435,429 433,430.4 431,430.1 430,429ZM736.5,433 741,431.5 743,432.4 743.3,435 741,437.7 739,437.7 736.1,435ZM670.1,479 675,478.5 675.7,479 674.5,481 671,482 669,481.8 668.5,481ZM754.7,481 757.1,481 758.9,483 759.2,485 757,486.5 755,485.9 753.9,485 753.5,483ZM767.7,491 769,490 771,490.5 771.4,493 771,493.7 769,494.3 767.1,493ZM410.2,499 412,499 413,501.3 411,502 409.8,501ZM720.6,505 721.4,505 723.5,507 723,509.2 721,509.7 720.4,509 719.5,507ZM633.2,511 635,509.8 637.2,511 635,512.7ZM656,513 657,512.8 659,514 661,514.1 662.1,515 653.7,515 655,513.3ZM418.4,515 419,514.4 421,514.4 421.9,515ZM713.3,515 715,513.3 717,515 717,515Z"/>
<path fill="#182C8C" d="M645,337 649,336.3 655,336.7 661,338.3 667,342.4 670.1,343 673.1,347 675,348.1 677,349 681.3,349 689,356.4 691,357.4 695,357.8 697,358.5 699.5,361 701.2,367 705.2,371 706.2,375 709,376.2 717,378.3 720.2,381 721.7,383 721.1,385 716.8,389 715.9,391 716.3,393 715,394.7 711,394.9 708.5,397 706.7,401 705.7,409 703.3,415 701,416.8 697,415.9 695,417.2 689,423.4 683.4,425 683.1,429 681.6,431 677,432.7 674.4,435 673.2,437 673,439.2 667,441.3 665.5,443 663.5,449 659,453.4 656.2,455 656.1,457 658.2,463 661.7,465 662.9,467 661,472.7 657,476.7 656.5,479 659,486.1 661.7,489 661,492.4 659,494 655.9,495 655,496.9 653,496.5 643,496.9 641,497.9 639,500.3 637.1,499 638.1,495 633,494.1 631,494.4 628.5,497 627,503.2 625.9,505 621.3,509 620.1,511 619.4,515 584.1,515 582.2,511 583,509.6 587,508.2 588,507 588.9,505 588.4,503 584.9,499 583,494.4 581,492.5 577,492.9 575,491 571,488.4 568.3,483 567.8,481 568.5,479 567.7,477 565,473.4 564,471 561,467.5 554.9,463 550.8,457 549.9,455 550,453 552.3,449 551.8,445 550.5,441 550.9,439 553,437.7 557,436.9 559,437.4 560.5,441 560.8,445 561.5,447 563.4,451 565,452.9 567,453.4 575,449.8 575.7,445 573.3,439 573.4,433 571.9,431 569.2,429 564.4,427 563.6,425 564.2,423 568.5,417 573,414.7 577,410.2 579,409.9 580.7,411 585,411.3 587,410.7 591,407.7 593.4,403 594.6,399 594.6,397 591.5,395 591.1,393 592.7,391 595,389.9 597,390.7 597.6,395 599,396 603,396 605,396.3 605.8,397 607.5,405 608.8,407 614.6,413 618.6,415 620.3,417 619.9,419 620.6,421 621.4,421 623,419.7 623.4,419 621.6,415 622.5,413 623.1,409 625,405.5 627.1,403 627.2,401 629,400.1 631,401.7 633,401.5 633.3,401 633,398.7 630.4,395 629,389.9 627,386.1 623,385.6 622.1,383 623,381.6 627,383.5 628.3,381 628.5,379 626,377 625.6,375 627,369 629,367.5 630.6,365 631.2,361 633.5,355 637.3,351 641,341.9 643,338.7ZM647,423.5 643,426.4 639,428.4 637.5,431 638.3,433 643.5,439 643.1,441 643.8,443 646.7,445 647,446 647.8,443 647.6,441 648.8,439 651.7,437 651,436.1 650.9,433 654.6,429 654.9,427 653,424.6 651,423.4ZM721.7,419 723,417.9 725.6,419 726,421 724.9,423 723,423.7 722,423 721.2,421ZM542.9,439 545,438.7 547,441 547,443 545,444.5 542.3,443 541.2,441ZM454.3,445 457,444 459,444.1 463,446 467,444.6 469,444.6 475,445.8 479,449.6 481,450 485,448.1 487,448.1 491,450.4 497,452.5 505,452.8 513,458.4 515,458.5 519,456.6 521,456.3 522.2,457 530.4,467 531.3,469 531.9,473 535,476.4 536.2,477 537.5,479 537,480.5 533,479.9 531,480.6 530.2,483 531,484.3 533,484.6 535,483.4 537,483.8 539,486.4 543,485.4 545,485.7 546.8,487 547.7,489 548.2,493 549,494.6 553,497.5 555,498 557,495.8 561,494.6 563,494.5 565,496 565.5,497 564.1,499 556.7,503 554.6,509 554.6,511 557.2,515 507.5,515 508.9,511 512.2,505 511,503 509,501.5 504.4,507 503,509.8 498,513 499,513.5 499.8,515 427.8,515 427.4,509 428.5,507 433,506.1 435,503.4 436,501 436.4,495 437,493.4 438.6,493 439,491.4 439.1,493 441,494.9 443,494.3 444.5,493 444.3,491 443,489.9 441,489.8 440.2,489 442.6,483 444.5,481 445.1,479 442.7,473 444.7,463 443.5,457 440.8,449 441.3,447 443,446 445,446.7 446,449 449,450.2 451,449.8 451.8,449ZM491,509.9 490.4,511 491,513.5 493,512.9 495.4,511 493,509.2ZM422.9,453 425,452.7 425.9,453 425,453.5ZM538.1,453 539,451.3 543,453.8 544.3,455 543.9,457 541,458.8 539,458.6 537.6,457ZM655,499 655,497.3 657,497.5 657,499.2Z"/>
<path fill="#141C84" d="M651.6,339 655,339 659,342.2 661,341.8 663,342.9 667.9,347 669,349.9 671,350.9 677,351.3 681,352.4 687.4,359 690.5,363 695,364.4 697,366.1 700.7,371 702.4,375 704.4,377 709,380 715,381.3 717.3,383 717,385 711.3,391 707.4,393 705.1,395 703.6,399 702.6,407 701.1,409 699,410.1 693,410.3 691.8,411 691.7,417 690.2,419 687.2,421 685,419.4 683,415 675,415.7 673.5,417 672.8,421 671,424.3 663.7,425 664.6,429 664.3,431 663,432.6 659,434 657,433.8 656.4,433 657,431 659,425.7 661,424.6 663,424.7 663.7,423 663.8,421 662.9,419 659,417.2 657,417.8 651.4,421 645,421.6 636.5,427 635.2,429 634.8,431 635,433.9 639,437.6 641,444.6 644.1,447 647,453.6 653,459 653.7,461 653.6,463 659,469 658.1,471 655,471.6 652.9,473 654,477 652.9,481 653,483.2 652,485 646.4,487 645,490.8 643,489.7 641,487.4 635,486.1 630.3,487 628.9,489 625.4,501 621,506.3 615.6,511 615,513 615.4,515 589.5,515 591,511.3 593,510 593.5,509 591,503 587,497.7 583.7,487 579,485.7 578.2,485 571.4,477 570.6,475 570.5,471 571.2,469 575.3,463 575.6,461 575,458.8 573,459.1 571,461.9 569.4,463 567,463.5 563,461.1 561,462.4 559,462.3 556.8,461 556.1,459 559,453.8 561,452.5 565,456.3 567,457.4 571,454.2 573,453.9 575,454.7 577,454.1 577.9,451 577.3,445 575.2,437 576,431 573.8,425 575,422.9 575.9,417 577,416.2 583,414.3 596.6,411 597,405.9 597.8,403 599,401 601,400.6 603,401.9 603.9,405 603,406.3 598.8,407 597.6,409 596.5,413 597.8,421 599.3,423 603,423.8 605,423.2 607.1,421 607.2,417 603.5,413 603.9,411 605,409.8 607,409.2 609.3,411 609.7,415 615,416.1 616,417 616.6,419 615.5,421 613.4,423 614.7,427 617,429.6 619,428.1 621,424.7 623,423.9 635,424.2 636.2,423 637.4,421 637.3,419 633.8,413 640.1,407 640.5,405 636.5,399 634.7,395 633.9,391 637,390.5 641,386.1 643,385.2 647,384.7 647.9,383 646.6,381 641,379.5 639,378.2 637,373.9 635,372.3 631.9,371 633.1,365 635.3,361 635.1,357 636,355 643,347.3 649,346.4 651,345 651.2,343 650.4,341ZM659,398.5 658.5,399 659.7,401 659.6,403 658.2,405 657.1,409 657.4,411 659,412.3 663,411.6 665,410.3 669.3,405 669,402.5 667,400.9 665,400.2 663,398 661,397.4ZM691,407.2 690.2,409 691,409.9 691.5,409ZM665,415.9 664.3,417 665,418.8 667.3,417 667,416.1ZM632.8,381 635,379.8 635.7,381 635,381.6ZM554.2,441 555,440.5 557,440.8 557.7,443 556.9,445 555,445.8 553.7,443ZM656,441 658.4,441 661,442.6 661.5,445 661,446.7 657,446.3 655.7,449 653,449.5 651.4,445 652,443ZM466.3,447 469,446.3 471.8,447 475,448.8 477.4,451 481,452.3 489,451.8 497,455.2 503.5,455 505.6,457 506,459 500.3,465 499.7,467 500.2,469 501,469.7 503,469.9 505,466.3 509,462.3 511,461.7 513,462 515,461.6 519,459.6 521,460.2 523.4,463 527,465.9 528.7,469 528.3,471 524.5,477 524.7,479 526.2,481 526.6,483 521.1,487 520.9,489 521.5,493 521,494.7 519,495.8 517,495.7 513.4,491 513,489.4 512,489 514.8,487 507,481.2 505,481.2 502,483 501.6,485 502.9,487 503,489.2 497,489.7 493,489.4 491,490 489.9,491 490.3,495 488.6,499 488.4,501 489.1,505 486.2,509 487.9,515 448.9,515 447,513.8 446,509 445,507.8 443,507.1 439,507 438.9,505 439.9,503 440.6,499 442.1,497 447,494.6 450.3,495 451,494.1 451.1,493 448.9,491 448.8,489 449.9,487 452.6,485 452,483 450,481 446.2,475 445.4,471 445.9,469 447,467.4 451,465.7 453.3,463 452.3,461 449,459.5 447,457.3 446.4,455 447,453.9 448.4,453 451,452.4 453,451.3 455,448.8 457,447.5 463,448.8ZM473,490.4 471,491.3 469,493.3 467,494.1 465,494.1 463.8,495 461,500.7 456.6,505 456.5,507 457,508.2 459,508.5 463,505.7 467,507.3 471,505.9 471.5,507 473,507.4 475,507.1 475.7,505 477,503.5 478.3,503 479.2,501 476.7,497 474.5,491ZM479,486.5 477.1,487 475.7,489 479,491.3 481,493.8 482.3,493 482.9,487 481,486.3ZM495,462.2 493.9,463 495,465.1 496.8,463ZM529.8,489 531,488.3 533,488.5 535,489.2 537,491.7 539,493 543.1,493 545,494.2 547,498 551,501 550.4,511 548.9,515 509.7,515 511,513 514,511 515,509.6 519.3,499 523,495.9 527,494.5 528.2,493ZM493.9,497 495,495.9 497,496.3 499,497.5 503,496 504,497 504.9,499 504.2,501 501,506.5 499,507.9 497,507.6 492.8,505 494.5,501ZM434.6,511 437,511.4 443,515 430.1,515 431,512.4 433,511.2Z"/>
<path fill="#0C0C78" d="M654.1,347 661,346.2 663,346.8 667,352.4 669,352.9 675,352.8 679,354.2 683,359 687,362.4 688.9,365 695,367.6 697.6,371 701,377 707,382.2 708.9,383 710.4,385 709.8,387 708.5,389 701.3,391 699,392.8 697.7,397 698.5,401 698.3,403 697,403.6 695,403.9 693,403.4 689,400.6 687,400.1 681,400 677,402.3 673,402.2 670.1,399 668.2,395 667,394 661,393.6 656.1,397 654.4,399 654.4,403 653.1,409 651.8,411 652.2,415 651.3,417 649,418.4 645,417.6 643,417.9 641.7,417 641.2,415 642.4,413 647,411.7 648,411 648.9,409 647.2,405 647.2,403 641,400.9 639.3,399 638.6,397 638.7,395 641,392.1 643,390.9 647,392.2 649,391 650.1,389 650.9,381 650.1,379 647.8,377 647.6,373 647,371.9 645,370.6 642.9,371 641,372.2 639,371.2 635.4,367 635.3,365 637.5,361 637.1,357 639,354.3 647,349.4ZM669.9,409 671,408.3 671.7,409 671.1,411 669,411.4 668.6,411ZM588.7,417 591,416.6 591.9,417 590.9,425 595,429.5 597,430.7 601,428.2 605,427.1 607,425.7 609,425.4 611,426.6 613,428.9 615.1,433 615,435.2 617,435.5 617.7,433 619,431.8 621,428.3 623,426.5 631.6,429 631.8,431 627.9,433 626.8,435 627.1,437 629,439.8 630.8,441 629,443 625,441.7 623,441.7 619.6,443 618,445 620.3,449 620.3,451 621,451.6 625,451.4 628.4,455 629.7,455 631.7,453 632.2,449 633.1,447 634.9,445 632.6,443 631.6,441 635,439.8 636.8,441 637.3,445 641.5,449 641.9,451 641.1,455 641.7,457 645,461 645.5,463 646.9,465 650,467 650.9,469 648.2,471 646.3,475 645,476.1 643,476.5 641,475.7 638.3,477 637.2,479 637.5,481 637,483.2 626.4,485 624.8,487 625.4,489 625,491.2 623.8,493 623.5,499 621.1,503 619,505.1 617,506 613,506.4 612.3,507 611,508.5 610.1,511 609.5,515 595.2,515 596.8,509 596.4,507 587,492.1 586.3,487 584.3,485 579.9,483 577,479.4 573.8,477 572.7,475 573,470.3 576.2,467 577.2,463 577.6,457 579.7,451 579.4,445 579.9,441 579,440.2 577.8,437 579.7,427 579,422 579.4,421 585,419.3ZM467.7,449 469,448.4 471.5,449 479.7,455 481,456.8 487,456.7 489,455.6 491,455.3 493,457 493,459 491.5,461 490.9,463 492.3,469 491,471.3 484.5,475 485,476 487,477.2 489,477.4 493,476.4 493.8,477 494.6,479 494.3,481 493,483.5 491,484.7 489,484.6 485.5,483 483,482.8 475.7,485 469,489.4 467,489.7 465,488.5 461,489 459,488.1 455,481.1 452.8,479 452.8,477 453.9,475 453.6,473 452.5,471 455,468.8 461,453.6 465,451.4ZM518.4,465 519,464.3 520.3,465 519,465.8ZM523.2,469 525,467.7 525.4,469 523,473.1 521,473.1ZM507.3,471 509,470.3 515,469.8 516.9,471 515,474.1 513,475.3 511,475.8 509,475.2 507.2,473ZM518.8,481 521,479.8 521.5,481 521,482.7 519,481.6ZM531.4,495 533,493.6 535,494 537,495.3 541,496 542.5,497 543.4,501 547.4,505 548,509 547.8,511 546.2,515 513.3,515 517,514 518,513 523,500.9 525,499.7 527,499.4 529,498.3ZM444.2,499 445,497.8 447,497.2 450.5,499 452.2,501 451.9,503 453.2,509 451.7,511 450.7,511 449.4,509 446.9,505 445.6,501ZM480.7,507 481.4,507 482,509 485,513 485.6,515 478.2,515 479,511.2ZM454.2,513 457,511.8 459,511.7 460.9,513 462.1,515 453.3,515ZM433,515 435,514.4 435.9,515 435,515Z"/></g><use href="#outA" fill="none" stroke="#000" stroke-width="1.7" stroke-linejoin="round"/><g fill="none" stroke="#163016" stroke-width="1.7"><path d="M230,211C232.5,212.3 240.4,216.2 245,219C249.6,221.8 253.3,224.8 257.5,227.5C261.7,230.2 265.8,232.9 270,235C274.2,237.1 277.1,237.5 282.5,240C287.9,242.5 296.2,246.7 302.5,250C308.8,253.3 314.6,257.5 320,260C325.4,262.5 330,264 335,265C340,266 345.4,266.2 350,266C354.6,265.8 358.8,265.4 362.5,264C366.2,262.6 369.2,260.7 372.5,257.5C375.8,254.3 378.8,248.8 382.5,245C386.2,241.2 391.2,237.5 395,235C398.8,232.5 400.8,231.2 405,230C409.2,228.8 414.2,227.6 420,227.5C425.8,227.4 433.3,228.4 440,229.5C446.7,230.6 453.8,232.1 460,234C466.2,235.9 471.7,237.9 477.5,241C483.3,244.1 490,248.7 495,252.5C500,256.3 504,260.4 507.5,264C511,267.6 514.1,271.5 516,274C517.9,276.5 518.5,278.2 519,279"/><path d="M519,279C520.8,277.5 525.7,272.3 530,270C534.3,267.7 540,266.5 545,265C550,263.5 555.4,262.7 560,261C564.6,259.3 567.5,258.5 572.5,255C577.5,251.5 583.8,245.4 590,240C596.2,234.6 602.9,228.8 610,222.5C617.1,216.2 625.4,208.8 632.5,202.5C639.6,196.2 647.8,189.1 652.5,185C657.2,180.9 657.9,180.3 661,178C664.1,175.7 668,173.6 671,171C674,168.4 676.8,166.4 679,162.5C681.2,158.6 683.2,152.9 684,147.5C684.8,142.1 684.5,136.2 684,130C683.5,123.8 682.5,116.2 681,110C679.5,103.8 677.2,98.3 675,92.5C672.8,86.7 670,80.4 667.5,75C665,69.6 661.8,63.8 660,60C658.2,56.2 657.5,53.3 657,52"/><path d="M671,171C672.1,172.5 675.6,176.8 677.5,180C679.4,183.2 681.3,187 682.5,190C683.7,193 684.2,196.7 684.5,198"/><path d="M519,279C519.2,280.8 519.8,284.7 520,290C520.2,295.3 520.4,305.2 520,311C519.6,316.8 518.2,320.7 517.5,325C516.8,329.3 516.9,332.5 516,337C515.1,341.5 513.5,348 512,352C510.5,356 509,358.5 507,361C505,363.5 502.8,365.5 500,367C497.2,368.5 495,369.9 490,370C485,370.1 476.7,369.2 470,367.5C463.3,365.8 455.8,362.1 450,360C444.2,357.9 440,356 435,355C430,354 425,353.6 420,354C415,354.4 409.6,355.7 405,357.5C400.4,359.3 396,362.1 392.5,365C389,367.9 385.4,373.3 384,375"/><path d="M520,311C522.1,311.3 528.3,312.5 532.5,313C536.7,313.5 538.8,314 545,314C551.2,314 561.7,313.5 570,313C578.3,312.5 586.7,311.5 595,311C603.3,310.5 613.3,310.2 620,310C626.7,309.8 632,309 635,310C638,311 637.2,314.3 638,316C638.8,317.7 638,319.3 640,320C642,320.7 646.7,321.2 650,320C653.3,318.8 656.7,315.4 660,312.5C663.3,309.6 666.2,306.2 670,302.5C673.8,298.8 679.5,293 682.5,290C685.5,287 687.1,285.4 688,284.5"/><path d="M542.5,314C545,315.2 552.5,318.3 557.5,321C562.5,323.7 568.8,327.7 572.5,330C576.2,332.3 579.2,332.8 580,335C580.8,337.2 578.2,340.1 577,343C575.8,345.9 572.3,349.7 572.5,352.5C572.7,355.3 576.1,357.4 578,360C579.9,362.6 583.5,365.5 584,368C584.5,370.5 581.2,370.1 581,375C580.8,379.9 583.5,390.8 582.5,397.5C581.5,404.2 578.8,409.6 575,415C571.2,420.4 564.6,425.4 560,430C555.4,434.6 549.6,440.4 547.5,442.5"/></g><g id="islA" fill="#000"><circle cx="705" cy="230" r="0.9"/><circle cx="708" cy="233" r="0.9"/><circle cx="712" cy="236" r="0.9"/><circle cx="699" cy="256" r="0.9"/><circle cx="734" cy="440" r="0.9"/><circle cx="733" cy="446" r="0.9"/><circle cx="731" cy="395" r="0.9"/><circle cx="620" cy="515" r="0.9"/><circle cx="624" cy="517" r="0.9"/><circle cx="657" cy="463" r="0.9"/><circle cx="583" cy="467" r="0.9"/><circle cx="589" cy="476" r="0.9"/><circle cx="712" cy="426" r="1.2"/><circle cx="711.5" cy="429" r="1"/><circle cx="610" cy="520" r="0.7"/><circle cx="628" cy="512" r="0.7"/><circle cx="717.3" cy="325.5" r="0.9"/><circle cx="716.7" cy="328.8" r="0.8"/><circle cx="714.1" cy="331.6" r="0.6"/><circle cx="711.3" cy="333.9" r="0.6"/><circle cx="713.9" cy="338.2" r="0.6"/><circle cx="716.8" cy="337.4" r="1.1"/><circle cx="723.7" cy="335.1" r="1.1"/><circle cx="729.3" cy="333.8" r="0.7"/><circle cx="724.8" cy="336.5" r="0.7"/><circle cx="723.5" cy="342.1" r="0.9"/><circle cx="723.5" cy="345" r="0.9"/><circle cx="722.2" cy="346.2" r="0.7"/><circle cx="722.1" cy="351.9" r="0.7"/><circle cx="720.8" cy="355.4" r="0.7"/><circle cx="720.1" cy="360" r="0.7"/><circle cx="717.8" cy="362.1" r="1.1"/><circle cx="715.2" cy="365.4" r="1.1"/><circle cx="715.2" cy="366.9" r="1"/><circle cx="714.2" cy="370.5" r="0.6"/><circle cx="713.9" cy="376" r="0.9"/><circle cx="710.1" cy="379.2" r="1"/><circle cx="710.5" cy="382" r="0.8"/><circle cx="711.4" cy="387" r="0.8"/><circle cx="706.2" cy="388.3" r="1"/><circle cx="709.6" cy="393.2" r="1"/><circle cx="705.5" cy="394" r="1"/><circle cx="705.3" cy="397.2" r="0.7"/><circle cx="702.6" cy="401.7" r="1"/><circle cx="700.4" cy="404.3" r="0.8"/><circle cx="695.8" cy="407.7" r="0.8"/><circle cx="696.9" cy="412.2" r="1"/><circle cx="691.2" cy="413" r="0.8"/><circle cx="692.4" cy="416.7" r="1.1"/><circle cx="687.9" cy="416.1" r="0.7"/><circle cx="686.2" cy="420.8" r="0.9"/><circle cx="682" cy="423.6" r="0.8"/><circle cx="679.5" cy="428" r="1.1"/><circle cx="674.9" cy="431.1" r="0.9"/><circle cx="670.6" cy="432.2" r="1.1"/><circle cx="669.3" cy="438.2" r="1"/><circle cx="665.6" cy="437.4" r="0.6"/><circle cx="660.5" cy="439.6" r="0.6"/><circle cx="658.5" cy="441.2" r="0.8"/><circle cx="655.2" cy="443.1" r="0.6"/><circle cx="652.2" cy="446.2" r="0.6"/><circle cx="647" cy="451.2" r="0.6"/><circle cx="643.7" cy="450.2" r="0.8"/><circle cx="639.6" cy="452.2" r="1.1"/><circle cx="637.9" cy="449.7" r="0.6"/><circle cx="635.9" cy="451" r="0.7"/><circle cx="630.1" cy="454.7" r="0.6"/><circle cx="627.1" cy="457.9" r="0.6"/><circle cx="624.3" cy="457.3" r="0.9"/><circle cx="619.3" cy="462.8" r="1"/><circle cx="617.6" cy="460.1" r="0.7"/><circle cx="611.4" cy="462.2" r="1"/><circle cx="609.3" cy="461.4" r="1"/><circle cx="605" cy="466.8" r="1"/><circle cx="602" cy="467.2" r="0.7"/><circle cx="734.2" cy="190.6" r="0.5"/><circle cx="732.2" cy="192.4" r="0.6"/><circle cx="727.6" cy="200.3" r="0.7"/><circle cx="723" cy="206" r="0.9"/><circle cx="718.7" cy="206" r="0.6"/><circle cx="714.6" cy="208.1" r="0.7"/><circle cx="708.8" cy="214.4" r="0.7"/><circle cx="705.8" cy="217" r="0.5"/><circle cx="700.2" cy="221.9" r="0.8"/></g><g fill="none" stroke="#707070" stroke-opacity="0.6" stroke-width="0.75" stroke-dasharray="5 1 1 1"><path d="M154,26L82,172"/><path d="M413,26L327,591"/><path d="M651,26L737,591"/><path d="M909.5,26L938,78"/><path d="M82,257A1098,1098 0 0 0 938,276.5"/></g><g stroke="#000" stroke-width="1.6"><path d="M154,26v4"/><path d="M413,26v4"/><path d="M651,26v4"/><path d="M909.5,26v4"/><path d="M327,591v-4"/><path d="M737,591v-4"/><path d="M82,257h4.5"/><path d="M938,276.5h-4.5"/></g><g font-family="Liberation Serif, serif" font-size="15.5" fill="#111" text-anchor="middle"><text x="155" y="18">60° E</text><text x="413" y="18">90° E</text><text x="651" y="18">120° E</text><text x="911" y="18">150° E</text><text x="327" y="610">90° E</text><text x="737" y="610">120° E</text><text transform="translate(75,257.5) rotate(-90)">30° N</text><text transform="translate(956.5,276.7) rotate(-90)">30° N</text></g><text x="89" y="432.5" font-family="Noto Serif CJK SC, Liberation Serif, serif" font-size="23.3" font-weight="500" fill="#111">Legend</text><text x="88" y="460" font-family="Liberation Serif, serif" font-size="18" fill="#111">Unit: mm</text><g stroke="#6b6b6b" stroke-width="1"><rect x="87.5" y="575" width="20.8" height="11" fill="#0C0C78"/><rect x="108.3" y="575" width="20.8" height="11" fill="#141C84"/><rect x="129.1" y="575" width="20.8" height="11" fill="#182C8C"/><rect x="149.9" y="575" width="20.8" height="11" fill="#1C3F94"/><rect x="170.7" y="575" width="20.8" height="11" fill="#1C5C9C"/><rect x="191.4" y="575" width="20.8" height="11" fill="#1C7CA4"/><rect x="212.2" y="575" width="20.8" height="11" fill="#1A90A8"/><rect x="233" y="575" width="20.8" height="11" fill="#24A090"/><rect x="253.8" y="575" width="20.8" height="11" fill="#2CA878"/><rect x="274.6" y="575" width="20.8" height="11" fill="#30B060"/><rect x="295.4" y="575" width="20.8" height="11" fill="#38BA50"/><rect x="316.2" y="575" width="20.8" height="11" fill="#3CC83E"/><rect x="337" y="575" width="20.8" height="11" fill="#2EDC0E"/><rect x="357.8" y="575" width="20.8" height="11" fill="#50E422"/><rect x="378.6" y="575" width="20.8" height="11" fill="#74E838"/><rect x="399.3" y="575" width="20.8" height="11" fill="#94EC48"/><rect x="420.1" y="575" width="20.8" height="11" fill="#B4F058"/><rect x="440.9" y="575" width="20.8" height="11" fill="#DAF566"/><rect x="461.7" y="575" width="20.8" height="11" fill="#FEFE7A"/></g><g font-family="Liberation Serif, serif" font-size="18" fill="#111" text-anchor="middle"><text transform="translate(104.6,523) rotate(-90)">>1,800</text><text transform="translate(125.4,523) rotate(-90)">1,700 - 1,800</text><text transform="translate(146.2,523) rotate(-90)">1,600 - 1,700</text><text transform="translate(167,523) rotate(-90)">1,500 - 1,600</text><text transform="translate(187.8,523) rotate(-90)">1,400 - 1,500</text><text transform="translate(208.5,523) rotate(-90)">1,300 - 1,400</text><text transform="translate(229.3,523) rotate(-90)">1,200 - 1,300</text><text transform="translate(250.1,523) rotate(-90)">1,100 - 1,200</text><text transform="translate(270.9,523) rotate(-90)">1,000 - 1,100</text><text transform="translate(291.7,523) rotate(-90)">900 - 1,000</text><text transform="translate(312.5,523) rotate(-90)">800 - 900</text><text transform="translate(333.3,523) rotate(-90)">700 - 800</text><text transform="translate(354.1,523) rotate(-90)">600 - 700</text><text transform="translate(374.9,523) rotate(-90)">500 - 600</text><text transform="translate(395.6,523) rotate(-90)">400 - 500</text><text transform="translate(416.4,523) rotate(-90)">300 - 400</text><text transform="translate(437.2,523) rotate(-90)">200 - 300</text><text transform="translate(458,523) rotate(-90)">100 - 200</text><text transform="translate(478.8,523) rotate(-90)">&lt; 100</text></g><path d="M525.2,566V575H641.8V566M583.4,566V575" fill="none" stroke="#111" stroke-width="1.9"/><g font-family="Liberation Serif, serif" font-size="18.5" fill="#111" text-anchor="middle"><text x="525.8" y="556.8">0</text><text x="583.4" y="556.8">500</text><text x="641.6" y="556.8">1,000</text><text x="691.8" y="556.8">KM</text></g><clipPath id="icA"><rect x="767" y="340.5" width="134.5" height="208"/></clipPath><g clip-path="url(#icA)"><g transform="translate(448.7,136) scale(0.568)"><use href="#fillA"/><use href="#outA" fill="none" stroke="#000" stroke-width="2.4" stroke-linejoin="round"/><use href="#islA"/></g></g><g fill="none" stroke="#111" stroke-width="2" stroke-dasharray="3.2 3.2"><path d="M783.2,340.5L786.2,398.4 788.2,440 790.2,478.2 793.2,548.4"/><path d="M846.4,340.5L852.4,370.2 856.5,402.4 861.5,441 866.5,472.1 872.5,506.3 877.6,548.4"/><path d="M764,409.8L800.2,407.4 856.5,402.4 902.7,393.9"/><path d="M764,479.6L790.2,478.2 824.3,476.1 866.5,472.1 902.7,465.1"/><path d="M764,545.4L793.2,544.4 830.4,541.4 876.5,535.4 902.7,531.8"/></g><g stroke="#707070" stroke-width="1.5" fill="none"><path d="M868.5,367.2L869.5,375.3"/><path d="M867.5,388.3L863.5,395.3"/><path d="M854.5,411.4L857.5,417.4"/><path d="M852.4,430.5L854.5,438.5"/><path d="M857.5,458.1L854.5,467.1"/><path d="M839.4,488.2L834.4,495.2"/><path d="M815.3,518.9L806.9,522.3"/><path d="M776.7,498.8L777.8,505.9"/><path d="M791.2,464.1L790.2,470.1"/><path d="M783.2,435.5L788.2,442.5"/></g><rect x="767" y="340.5" width="134.5" height="208" fill="none" stroke="#000" stroke-width="1.8"/><g stroke="#000" stroke-width="1.8"><path d="M783.2,336v5M846.4,336v5M793.2,548v5M877.6,548v5M763,409.8h4M763,479.6h4M763,545.4h4M901,393.9h4M901,465.1h4M901,531.8h4"/></g><g font-family="Liberation Serif, serif" font-size="14" fill="#111" text-anchor="middle"><text x="783.5" y="335.5">110°E</text><text x="848" y="335.5">120°E</text><text x="794" y="563.5">110°E</text><text x="879" y="563.5">120°E</text><text transform="translate(761.5,410) rotate(-90)">20°N</text><text transform="translate(761.5,479) rotate(-90)">10°N</text><text transform="translate(761.5,546) rotate(-90)">0°</text><text transform="translate(916.7,393.7) rotate(-90)">20°N</text><text transform="translate(916.7,465) rotate(-90)">10°N</text><text transform="translate(916.7,532) rotate(-90)">0°</text></g><rect x="82" y="25.5" width="856" height="566" fill="none" stroke="#000" stroke-width="2.6"/></g>
<g transform="translate(1,682) scale(1.010,1.0112)"><clipPath id="cpB"><path d="M225.5,185 228.7,180 236,175 245,173 251,172.5 257.5,176 264,171 274,169 285,167 295,165 300,161 301,155 307.5,152.5 308,140 306,130 312.5,128 322.5,127 329,130 330,122.5 336,114 341,106 347.5,110 356,112 362.5,111 364,100 370,95 376,92.5 379,89.5 385,90 386,96 392.5,104 401,109 405,115 409,126 406,134 404,142.5 410,146 422.5,149 432.5,154 442.5,160 446,170 451,181 460,183 470,184.5 487.5,186 502.5,189 512.5,194 522.5,196 530,200 537.5,196 550,191 565,189 580,185 587.5,179 592.5,174 596,169 592.5,162.5 597.5,154 610,154 620,147.5 630,140 637.5,131 647.5,126 659,125 664,122.5 659,116 650,111 640,111 632.5,116 626,114 625,107.5 630,97.5 632.5,89 642.5,90 650,84 654,74 659,61 655,50 660,42.5 670,37.5 682.5,34 692.5,35 702.5,40 709,49 716,59 722.5,70 732.5,75 745,76 752.5,81 757.5,90 767.5,89 775,81 784,76 790,73 789,85 787.5,102.5 785,119 777.5,121 770,127.5 767.5,135 772.5,142.5 775,152.5 769,155 772.5,160 764,157.5 760,165 754,170 752.5,177.5 746,174 740,180 735,187.5 727.5,195 720,204 710,209 702.5,216 696,221 696,212.5 700,205 696,197.5 690,197.5 682.5,205 676,215 670,222.5 660,225 657.5,231 664,239 671,240 675,247.5 682.5,247.5 687.5,240 692.5,237.5 700,240 710,241 709,247.5 700,252.5 694,257.5 687.5,264 684,271 681,279 687.5,284 695,290 701,300 707.5,309 714,316 717.5,324 712.5,330 710,333 720,335 725,332.5 722.5,342.5 720,352.5 715,362.5 711,372.5 707.5,382.5 704,392.5 702.5,401 695,407.5 687.5,415 682.5,422.5 672.5,430 662.5,437.5 655,442.5 645,449 637.5,447 632.5,452.5 622.5,457.5 610,460 600,464 599,467.5 600,476 595,477.5 592.5,470 590,460 582.5,461 572.5,461 560,459 552.5,455 552.5,446 545,444 537.5,440 531,442.5 522.5,447.5 515,446 505,447.5 495,451 494,457.5 494,466 486,464 480,456 472.5,457.5 464,452.5 466,445 460,437.5 457.5,429 445,427.5 445,417.5 452.5,410 460,397.5 460,385 455,377.5 450,371 445,377.5 437.5,377.5 427.5,372.5 415,377.5 405,382.5 395,386 385,384 384,377.5 377.5,372.5 370,367.5 360,365 354,369 350,374.5 347.5,369 344,365 332.5,364 322.5,360 314,355 306,347.5 299,340 290,335 282.5,326 276,319 269,319 260,309 252.5,301 250,292.5 249,282.5 255,284 259.5,277.5 257.5,267.5 261,261 255,255 256,246 252.5,241 244,240 237.5,234 240,230 237.5,224 232.5,216 226,212.5 231,210 235,204 234,196 227.5,192.5ZM720,403 724,399 728,397.5 732,401 731.5,412 729,426 726.5,438 724.5,445 721,439 716,432 712.5,425 714,414 717,407ZM579,491 583,485.5 590,482 597,480 606,480 607.5,485 605,492 601,498 595,502.5 588,504 582,502.5 579,497Z"/></clipPath><defs><path id="outB" d="M225.5,185 228.7,180 236,175 245,173 251,172.5 257.5,176 264,171 274,169 285,167 295,165 300,161 301,155 307.5,152.5 308,140 306,130 312.5,128 322.5,127 329,130 330,122.5 336,114 341,106 347.5,110 356,112 362.5,111 364,100 370,95 376,92.5 379,89.5 385,90 386,96 392.5,104 401,109 405,115 409,126 406,134 404,142.5 410,146 422.5,149 432.5,154 442.5,160 446,170 451,181 460,183 470,184.5 487.5,186 502.5,189 512.5,194 522.5,196 530,200 537.5,196 550,191 565,189 580,185 587.5,179 592.5,174 596,169 592.5,162.5 597.5,154 610,154 620,147.5 630,140 637.5,131 647.5,126 659,125 664,122.5 659,116 650,111 640,111 632.5,116 626,114 625,107.5 630,97.5 632.5,89 642.5,90 650,84 654,74 659,61 655,50 660,42.5 670,37.5 682.5,34 692.5,35 702.5,40 709,49 716,59 722.5,70 732.5,75 745,76 752.5,81 757.5,90 767.5,89 775,81 784,76 790,73 789,85 787.5,102.5 785,119 777.5,121 770,127.5 767.5,135 772.5,142.5 775,152.5 769,155 772.5,160 764,157.5 760,165 754,170 752.5,177.5 746,174 740,180 735,187.5 727.5,195 720,204 710,209 702.5,216 696,221 696,212.5 700,205 696,197.5 690,197.5 682.5,205 676,215 670,222.5 660,225 657.5,231 664,239 671,240 675,247.5 682.5,247.5 687.5,240 692.5,237.5 700,240 710,241 709,247.5 700,252.5 694,257.5 687.5,264 684,271 681,279 687.5,284 695,290 701,300 707.5,309 714,316 717.5,324 712.5,330 710,333 720,335 725,332.5 722.5,342.5 720,352.5 715,362.5 711,372.5 707.5,382.5 704,392.5 702.5,401 695,407.5 687.5,415 682.5,422.5 672.5,430 662.5,437.5 655,442.5 645,449 637.5,447 632.5,452.5 622.5,457.5 610,460 600,464 599,467.5 600,476 595,477.5 592.5,470 590,460 582.5,461 572.5,461 560,459 552.5,455 552.5,446 545,444 537.5,440 531,442.5 522.5,447.5 515,446 505,447.5 495,451 494,457.5 494,466 486,464 480,456 472.5,457.5 464,452.5 466,445 460,437.5 457.5,429 445,427.5 445,417.5 452.5,410 460,397.5 460,385 455,377.5 450,371 445,377.5 437.5,377.5 427.5,372.5 415,377.5 405,382.5 395,386 385,384 384,377.5 377.5,372.5 370,367.5 360,365 354,369 350,374.5 347.5,369 344,365 332.5,364 322.5,360 314,355 306,347.5 299,340 290,335 282.5,326 276,319 269,319 260,309 252.5,301 250,292.5 249,282.5 255,284 259.5,277.5 257.5,267.5 261,261 255,255 256,246 252.5,241 244,240 237.5,234 240,230 237.5,224 232.5,216 226,212.5 231,210 235,204 234,196 227.5,192.5ZM720,403 724,399 728,397.5 732,401 731.5,412 729,426 726.5,438 724.5,445 721,439 716,432 712.5,425 714,414 717,407ZM579,491 583,485.5 590,482 597,480 606,480 607.5,485 605,492 601,498 595,502.5 588,504 582,502.5 579,497Z"/></defs><g id="fillB" clip-path="url(#cpB)"><rect x="215" y="25" width="590" height="495" fill="#FEFE7A"/><path fill="#DAF566" d="M215,25 801,25 801,515 215,515 215,273.2 217,274.1 227.2,283 235,288.2 245,293.3 255,295.2 267,294.4 281.3,291 289,286.8 297,284.2 303,281.3 323,270.5 343,263.1 363,253.4 373,251.6 389,250 411,253.7 417,253 426.2,249 435,243.6 441,240.9 465,222.3 521,206.8 527,203.4 531.1,199 534.7,191 537,181 537.3,169 535.5,159 533,154.7 529.6,151 526.9,143 525.2,141 518.7,137 517,135.6 514,131 507,126.3 505,125.4 499,124.9 487,128.5 483,128.2 479,129.7 475.3,135 471,137.7 467.1,143 463,145.5 459,150.4 447,159.6 443,163.8 441,164.8 437,165.4 427,164.7 417,165.6 405,164.4 395,164.4 385,167.2 373,173.6 363,176.2 329,180 301,186 281,188.9 259,189.4 249,190.5 239,193.7 231,198.2 223,204.3 215,207.1Z"/>
<path fill="#B4F058" d="M323.2,25 325,25 336.9,25 335,28.4 327,29.5 325,29.1ZM516.7,25 801,25 801,515 215,515 215,313 225,314.3 231,316.7 245,319.1 271,314.4 283,313.3 291.9,311 303,305.6 319,294.7 325,292.9 337,285.4 347.5,281 355,276.3 365,272.2 385,267.5 407,267 421,265 435,256.8 447.4,251 465,238.8 475,234.5 489,230.1 501,229.2 515,225.1 521,222.1 529,219.5 537,215.8 544.5,211 553,203.9 557.6,201 561.3,197 566,187 573.2,175 573.5,169 576.6,163 577,161 577.3,153 579.9,147 584.9,141 586.6,137 587.2,127 584.2,119 584.6,113 587.1,107 586.9,105 582.5,97 581.8,95 582.2,91 581,88.1 573,81.5 569,75.6 561,68.9 559,64.7 553.7,61 550.8,57 545.2,53 541,45.3 536.8,41 530.7,39 523,37.6 521,36.3 518.2,31ZM335,33 335.7,35 335,35.1 334.9,35ZM243.9,37 245,36.1 248,37 249.2,39 248.3,41 242.6,45 239,49.4 237,50.4 235,49.8 233.3,47 237,41.2 241,40.6ZM325,37 327,38.7 327.1,39 325,39ZM254.4,43 255,42.5 255.4,43 255,45ZM298.6,49 301,49.1 303,51 305,51.8 313,53.2 319,55.9 327,53.8 329.7,55 330.9,59 337,63 339,65 341,68.5 343.9,71 344.3,73 343.1,77 343.3,79 348.6,87 348.2,95 350.6,103 348.3,115 345,120.1 341,123.6 331,125.6 327,129.8 326.4,131 326.3,143 322.5,151 319,153.5 311,155.8 305,153.4 293,151 289,148.4 283,147 279,144.1 273,141.6 269,142.4 267,141.7 265.7,139 265.5,137 267.3,133 267.4,129 267,127.6 263.1,125 267,124.4 269.4,121 268.3,119 265,118.2 263,116.6 260.9,113 260.7,111 263.3,107 262.7,101 261.8,99 256.5,97 253.9,95 249.9,89 249,82.1 245,80.8 242.9,79 245.9,73 244,69 244.2,67 245,64.9 247,63.8 251,62.8 255,63.7 259,66.7 267,66.4 270.3,65 273,61.7 275,60.4 279,59.7 287.5,63 293,57 295,51ZM215,65 215,63.2 218.4,65 220.2,69 223,72.9 223.8,77 223,81.3 221,82.7 218.9,83 215,86.3 215,82.3 217,81.7 218,79 217.2,77 215,76.7Z"/>
<path fill="#94EC48" d="M602.4,25 801,25 801,515 215,515 215,344.4 221,343.9 225,345.5 237,346.2 243,347.5 249,345.1 255,344.4 261,341.3 265.5,341 271,338.3 277,339 281,338.7 295,333.4 297,333.3 311,337.5 313,337.6 321,335.8 325,331.2 329.3,323 336.6,317 341,314.6 343.7,311 355.4,299 367,292.4 374.5,287 387,283.7 399,282.1 407,278.3 423,274.3 433,269.5 441,263.9 455,257.7 465,252.1 477,247.3 493,242.5 503,240.9 513,240.3 533,236.3 551,231.5 556.2,227 560.4,225 567,225.1 569,224.6 577,220.1 581,221.5 583,221.1 587.9,213 594,209 598.2,203 603,198 606.3,191 614.8,181 619.3,173 620.3,169 619.3,157 621.9,147 628,137 632.6,133 641,119 641.2,117 639.3,109 637,105.5 636.1,101 632.1,93 628.1,87 622.6,81 617,68.3 612,65 609.3,53 608.3,45 608.8,41 605.6,35Z"/>
<path fill="#74E838" d="M649.2,25 801,25 801,515 215,515 215,371.4 221,370.5 229,371.7 239,368.5 247,368.1 249.2,367 255,366.4 261,363.9 271,362.8 279,359.5 289,357.5 293,357.7 299,356 307,358.2 317,359.7 323,359.8 339,367.1 349,366.3 351,365.6 357,362.4 359,357.3 363.6,355 365.5,353 365.4,347 362.8,339 365,330.6 366.6,327 369,325 372.6,319 375,310.2 379,305 385,299.8 391,296.7 407,290.6 421,287.1 425,284.5 433,281.7 457,268.1 481,258.7 491,257.2 499,257.3 505,256.3 513,257 523,254.7 531,255.4 539,257.8 559,253.6 569,252.3 575,250.6 581,245.8 589.2,243 595.8,233 599,229.7 609,225.8 613.3,225 615,218.6 619,215.6 621,211.3 625,210.5 626.9,209 629,203.9 633,202.3 639,195.5 661,175.5 671,153 670.3,149 670.6,143 668.6,139 667.1,127 664.1,121 663.7,113 664.6,105 669,94.2 672.6,89 669,86.8 665,78.6 661,78.7 659,78.1 657,76.5 653.6,71 654.1,69 657.7,67 657.5,65 653.8,61 651.8,53 652.5,51 655.9,47 657,43 651.9,33Z"/>
<path fill="#50E422" d="M726.9,27 730.1,25 800.2,25 801,25.8 801,515 215,515 215,403.6 217,405.7 219,406.4 221,406.1 233,398.2 239,396.7 241.2,397 245.8,401 249,401.4 253,398.6 257,393.7 261,391.8 269,384.4 277,382.6 285,384.8 287,384.7 303,379.6 305,379.7 313.8,383 321,383.7 327,383.1 335,380.9 347,381.7 351,383 359,381.4 367,382.6 373,381.8 385,384.7 391,383.9 399,378.3 407,369.4 413,369.1 415.1,367 415.4,365 414.5,363 413,362 403,359.2 399,351.3 392.7,343 391.2,337 394,321 396.1,315 409,305.8 423,302.4 429,298.3 433,296.8 437.1,293 451,286.3 459,283.2 465,282.3 471,280.4 479,275.3 485,275.1 489,276.2 495,274.7 503,277.6 505,277.7 511,276.5 518.3,281 527,282.4 531,284.4 535,284.9 541,284.1 545,281.7 553,279.2 561,280 565,278 568.2,275 571,273.6 581,273 585,269.7 589,269.3 592.5,265 595,263.6 597.5,257 603,250.7 613,247.7 619,249.3 621,249.3 625.9,247 629,241.2 633,238.8 638.2,231 641.1,225 643,217.4 647,214.8 648.9,213 651,209.4 655,206.8 663,199.4 665.5,195 671,189.1 673,184.5 679,181.6 684,175 693.1,167 699.8,159 707.5,145 710.4,135 709,129 710.4,125 710.3,123 708.1,115 710.7,105 712.4,93 712.1,89 710.7,85 710.9,79 710,77 707.9,75 709,72.2 714.4,69 715.6,61 716.5,59 720.6,55 723.2,51 723.7,49 719,45.1 717.4,41 720.7,31Z"/>
<path fill="#2EDC0E" d="M796.2,131 801,130.5 801,515 215,515 215,437.5 221,436.4 227,433.5 235,433.2 239,433.9 249,432.1 255.4,429 264.9,421 268,417 270.8,411 273,409.3 279,408.8 285,405.8 297,406.2 301,404.7 307,404.2 311,402.6 317,401.8 323,402 349,397.6 355,395.2 365,393.3 373,393.6 379,392.7 391,393 405,387.6 413,382.3 420.4,379 429,377.8 441,374.4 447.3,371 456.8,363 463,359.5 469.8,353 465.8,349 466.8,347 466.2,345 461.2,341 461.8,335 460.9,333 458.7,331 455,329.4 449,330.5 443,328.5 441,330.4 439.6,335 436.5,341 433.9,343 431,343.6 427,347.1 425,347.6 417,347.2 412,345 409.7,343 406.4,337 405,331 406.1,325 409,320.5 419,318.9 423,319.4 427,318.9 429,319.1 437,322.2 441,320.3 443.3,321 447,325.2 449,324.8 451.1,323 453.2,317 463,313.6 467,311.4 473,313.7 477,314 481,311.3 483.9,307 491,305 493,304.6 495,305.1 499,308.1 505,305.7 509,305.4 513,303.1 529,306 541,304.6 545,304.9 557,304 559.7,303 565,299.5 569,298.8 575,296 581,295.8 589,297.6 599,295 603.4,295 612.2,291 621,282.2 623,281.4 631,281.6 637,283.6 639,282.8 641,280.7 647,280.9 653,276.3 659,274.7 660.8,273 661.4,271 664.4,269 665.4,267 662.3,257 661.2,249 654.7,237 654.3,235 656.4,229 661,223 667,212.4 673,207.2 677,202.3 681.5,199 684.3,195 687.2,193 690,189 694.5,185 696.5,181 699.3,179 701.2,175 705,171.7 709,165.6 715,160.5 721,158.8 729,153 733,151.7 743,150.1 751,152.2 757,155.3 763,155.9 767,157.4 769,157.7 775,156.1 781.6,157 783,156 784.8,151 789.9,147 791.8,137Z"/>
<path fill="#3CC83E" d="M734.2,167 739,166.7 749,168.8 755,172.6 761,172.1 767,174.4 771,174.2 777,175.1 781,174.2 785,175.6 791,174.8 795,175.4 801,174.7 801,515 215,515 215,449.9 227,451.7 245,452.8 249,450.6 253,450 257,446.7 267,446 271,444 276.5,443 279,440.1 281.4,439 282.1,437 282.2,433 285,429 287,427.8 289,427.1 291,427.5 295,432.4 297,432 299.6,429 309,421.3 311,419.8 315,418.7 319,415.3 323,413.6 325,413.3 329,414.3 339,412.8 345,413.1 353,409.8 359,409 365,405.3 371,404.1 379,401 387,400.5 401,397.3 413,390.2 417,389.8 429,386.6 437,382.8 443,381.7 449,378.5 461,378.1 470.9,373 475,366.6 477,365.5 481,364.9 484,363 487,357 489.2,355 490.9,349 495,346.4 498.6,343 503,340.7 509,332 511,326.4 519,321 523,319.4 527,316.3 534.7,313 543,311.8 559,311.2 575,305.8 583,306.2 589,307.6 601,307.8 609,304.8 615,304.7 619.4,307 633,307.9 643,301.4 651.3,299 665,289.2 673.6,285 678.2,279 683.1,275 685,269.7 689,268.8 690.4,267 690.8,263 692.6,259 695,255.6 699.1,253 702.4,247 705.1,233 705,230.4 703,227.9 695,222.1 694.4,217 695,213.5 698.1,207 700.1,197 703.6,189 709.1,179 715,171.5 727,167.8Z"/>
<path fill="#38BA50" d="M725,175 735,175.3 739,176.4 749.1,183 750.8,185 753,190 755,191.6 761,192.7 765,191.2 767,192.8 773,193.3 775,195 777,194.6 779,192.3 783,190.4 785,190 789,191.2 791,190.6 793,188 795,186.7 801,186.2 801,515 215,515 215,481.8 217.9,481 221,477.4 225,477.6 233,475.7 237,477.1 243,477.4 243.4,477 241.6,475 241.7,473 243.8,471 251,467 257,466.7 259,465.9 265,460.6 269,459.9 273,460.8 275,459.9 276.5,457 283,451.6 291,449.4 299,450.2 305,448.5 309,445.7 313,440.3 318.5,437 323.1,431 329,429.6 335,429.3 349,421.3 361,418 363,416.8 369.1,415 373,412.8 379,412.8 397,406.2 403,402.4 413,397.7 423,393.8 429,392.7 439,387.9 449,386.3 455,384.5 471.8,387 474.5,389 479,394 483.4,395 484.2,397 484.4,405 488.1,413 489,418.8 491,420.7 501,423.3 510.2,421 512.4,417 512.5,411 508.8,403 507.2,397 505,395.1 495,394.5 491,395.6 489,394.9 487.6,393 487.6,391 489.5,385 487.6,381 487.4,379 488.7,373 490.1,371 496,367 510.9,345 513.4,343 519,334.8 523,331.6 525,330.3 529,330.2 531.4,327 537.7,321 541,318.9 549,317.1 565,315.5 575,312.4 581,313.8 591,314.4 597,316.2 603,316 611,314.2 623,315 637,314.8 641,312.9 648.2,311 653,307.8 663,304.1 669,300.5 673,299.7 679,295.9 683,294.7 692.2,287 697,284.3 701.7,277 707.7,271 709.8,267 714.4,263 716.1,259 720,255 716.9,251 720,247 719.9,239 720.9,233 720.4,229 719,226.5 718.3,223 718.9,221 721.4,219 722.5,217 722.5,215 717,206.1 713.9,203 713,201 712.1,191 715.1,183 720.6,177Z"/>
<path fill="#30B060" d="M784.5,215 787,213.2 789,213.1 793,216.5 797,214.5 801,216 801,515 243.5,515 243.7,511 244.6,509 250.1,503 251.8,499 255,498.1 261,498.5 269,489 271,484 279,478.3 283,474 287,471.7 291,470.9 295,468.1 303,467.3 317,457 320.6,451 325.5,449 326.3,445 329,442.8 331,442.6 333,444.7 335,444.1 341,436.6 344.1,435 349,433.8 355,430.8 359,430.7 363,429.2 375,420.4 383,420 391,415.2 401,412.3 407,407.2 415,403.3 423,400.3 429,399.2 447,391.5 455,390.3 461,392.1 466,395 477.7,409 479.7,415 483,420.1 488.1,425 493,426.5 505,428.5 509,428.4 511,427.5 521.2,419 524.2,415 522.9,411 522.7,405 527,395.7 528.3,389 525,379.5 519.8,369 523,365 523.5,363 523,361.5 519,357.4 518,359 516,359 516.4,357 519,356.9 525,354.2 529,353.7 535,348.6 541,339.1 543.4,331 549,323.7 559,320.5 581,319.2 591,319.3 597,320.7 603,321 613,319.4 621,320.9 637,320.9 659,313.9 663,311.1 667,310 671,307.7 677,306.2 683,306.3 685,305.5 701,294.9 709,282.7 713,281.6 717,281.8 718.6,281 725.3,277 725.8,275 727,274 731,273.4 736,269 741,263 741,253 741.8,251 743,249.7 749,249.3 749.1,245 750.8,243 754.2,241 757,235.3 761,230.2 763,229.2 765,229.2 769,230.9 771,229 773,225.4 775.7,223 777.7,219 781,218.1ZM215,499 215,498.1 229,498.4 231,498.9 233.6,501 233.9,503 233.2,505 230.8,507 227.4,515 215,515Z"/>
<path fill="#2CA878" d="M800.7,261 801,259.4 801,261.4ZM800.6,271 801,270.8 801,515 304.1,515 304.5,513 307.5,509 307.9,507 301.9,499 305,495 310,483 317,479.7 318.7,477 328.7,467 337,464.3 339,462.8 342.6,457 346.1,453 347,449.6 349,447 351,447.1 355,443.9 363,440.6 365.3,439 369,434.5 371,433.6 375,433.9 379,431 383,430.8 387,429.1 391,425.3 405,417.3 409,413.8 423,405.2 449,396.8 455,396.2 458.1,397 461.4,399 467.4,405 472.4,415 479.7,425 485,428.6 489,429.7 503,431.9 509,432.1 511,431.7 523,425.7 529,421.9 532.7,417 535,409.5 537,406.6 539.5,405 540,403 537,396.3 536.8,391 535,387 535,377 533.5,373 533.5,371 535,368.6 539,367.3 541,365.5 543.5,361 547,358.6 548,357 548.9,351 548.6,343 551.5,339 554.3,331 557,327.6 563,325.7 573,324.7 581,324.8 591,323.3 605,325.2 615,324.8 621,327.1 629,325.9 637,325.8 659,320.4 675,313.3 683,314.7 687,313.8 691,311.5 695,307.6 700.8,305 709,299.3 715,298.6 721,295.9 727,289 729,288 733,288.1 735,287 743.6,281 745.3,277 749,275.4 751.6,273 753,272.7 763,275.1 769,274.1 773,276.8 775,277 783,276.3 789,278.8 793,279.7 795,279.5 797,278.5 798.7,273Z"/>
<path fill="#24A090" d="M749.5,297 753,296.4 759,298.8 761.3,303 763,304.6 765,304.7 769,302.7 775,301.2 777,299.9 779,297.3 781,296.5 788.8,303 790.5,307 797,312.5 801,312.6 801,370.4 799,370.5 797.4,373 798.6,375 798.2,377 795,380.1 794.4,385 795,389 798,395 798.6,401 801,402.6 801,515 322.1,515 321.8,509 323.3,503 328,501 329.8,499 328.7,493 329.5,491 331.9,489 331.9,485 337,480.1 339,479.2 343,480.8 345,480.9 357,475.2 359.6,461 361,459 367,454 373,450.9 377,450.2 379,448.9 381.8,445 391.4,437 393.4,433 399,429.5 403,424.9 409,421.7 413,418.2 429,408.5 439,406.2 447,402.2 449,401.8 455,403.5 463,408.8 465.1,415 467.8,419 478.4,429 486.7,433 493,433.3 499,434.5 511.6,435 529,427.4 533,426.6 537,423.1 541.9,421 544.4,417 549,412 551,410.3 555,409.9 555.5,409 553,408.6 552.1,407 552.1,399 553.9,395 553.8,393 551,390.1 544.7,389 542.8,385 542.6,381 545,377.8 548.5,375 549.5,371 552.1,365 556.9,357 558.1,349 557.5,343 558.8,339 562.8,335 567,333.2 571,330.4 575,328.9 597,328.1 601,328.8 605,330.4 611,330.9 623,333.5 629,331 639,330.3 651,326.7 657,325.9 677,321 689,321 695,318 703,315.5 707,315.1 711.4,311 717,308.9 719,309.3 721,310.8 735,313.6 738.3,311 739.3,303 747,297.9Z"/>
<path fill="#1A90A8" d="M704.8,325 713,323.7 719,323.6 735,330.8 737,332.3 747,334.4 757,337.7 761,336.7 767,339.9 773,341.9 777,342.1 779,344.8 781.8,351 781.9,367 784,371 785,375 784.5,377 782.5,379 782.3,381 784.8,385 786.2,391 785.1,395 788.3,401 788,405 789,411 787.4,421 797,428.6 801,428.5 801,439.2 800,441 800,443 801,444 801,515 338,515 337,512.7 335.3,511 335.7,509 341,505.7 349,497.5 353,498.1 355,497.5 356.2,495 358.4,493 364.1,491 366.8,489 368.6,485 372,481 373.3,475 379,471.5 381.5,467 385,464.2 391,454 392.9,449 397,445.2 400.6,439 403.5,437 407,431 412.9,427 416.6,423 423,418.6 445,407.9 449,407.8 458.4,413 461.2,417 472.3,429 481,434.3 487,436 509,438.4 513,437.7 529,432.2 535,432.7 537,432.2 543,427.4 549,424.7 553,420.6 559,417.8 567,412.7 571,407.8 572.8,401 570.3,395 570.8,387 569.5,381 571.2,377 571,375.7 569,373.4 564.9,373 559.8,367 559.9,365 564.1,359 565.1,353 564.3,347 565,345.1 567.7,343 569.8,339 577,334.1 585,332.9 593,333.1 597,332.4 607,336.1 615,336.2 621,337.7 625,337.5 631,336.4 639,336 647,333.1 651,331 661,328.9 667,328.6 673,326.3 693,325.6 695,325.8 699,327.9Z"/>
<path fill="#1C7CA4" d="M677.1,331 685,330.2 691,332.7 699,334.2 707,334.2 713.9,335 715,335.5 717.8,339 729,342.1 731,345.7 733,346 735,345 741,348.1 747,347.4 749,348.5 753.3,353 754,357 755.9,361 757.5,369 765.8,383 768.3,393 768.1,397 765.9,403 761.2,407 761.6,409 765.4,411 765.8,413 764.5,417 765,418 769,415 773,413.6 775,413.5 776.4,415 776.6,417 774.5,425 775.3,427 778.3,429 778.7,431 776.2,439 772.2,443 771.7,445 775,447.7 777.3,453 779,454.4 785,455.9 789,459.5 791,460.3 793,460.1 797,457.8 801,458 801,515 352.1,515 355.2,509 357,507.7 365,509 367,508.1 369.3,501 376.1,491 379,481 385.2,477 389.6,471 392,465 397,458.4 402.7,453 407,445.7 409,443.9 413,444.6 415.1,437 417,433.7 427,423.9 433,420.1 435,419 439,418.3 445,413.8 451,413.7 455,415.8 463,425.6 473,433.8 481,437.9 497,441 505,441.8 513,441.3 525,437 535,437.6 543,435.8 545.1,435 555,425.5 559,423.7 565,419.6 571,416.9 575,413 576.2,411 577.3,405 579,401 579,399 577.1,395 578.5,389 577.4,385 577.7,383 579.5,379 577.6,365 575.6,359 575.6,357 577,353 576.5,347 577.2,345 581,340.3 585,338.3 589,337.5 597,338 607,340.7 619,342.1 625,341.3 633,341.4 639,340.3 659,333.2 667,332.8ZM707,416.5 697.6,423 696,427 697.2,431 696.3,435 696.6,437 698.9,441 700.1,445 702,447 703,451.6 705,450.9 709,452.9 711,452.2 713,448.5 715,448.2 725,454.6 727.7,459 727.1,461 729,461.3 740.3,455 741.6,453 741.5,451 739.7,441 739,439.8 735,441.2 731,444.3 725,446.1 723,445.4 721.4,443 721.5,441 723.4,437 723.3,435 723,433 721.4,431 720.6,425 718,421 709,416.5ZM727,377.1 724.5,381 724.2,383 725.2,385 724.9,387 723,388.6 718.5,395 717.3,397 716.6,401 713.1,405 712,409 712.1,411 713,411.9 717,410.3 723,405.5 727,405.2 728.1,403 727,401.8 723,403 722.3,401 725.1,397 727.2,389 728.7,387 732.4,385 732.9,383 732.1,379 731,377.6ZM747,491.9 745.7,493 745,495 748.6,497 753,497.1 754.6,495 753,492.5 751,491.3ZM757,505 757.4,507 759,509.2 760.6,507 759.8,505 759,503.6Z"/>
<path fill="#1C5C9C" d="M682.9,335 691,338.5 705.2,339 708.4,341 711,344.5 719,348.9 721.5,353 717.7,363 715,367 710.9,381 707.7,387 704.5,391 703.8,393 704.2,397 702.4,403 695.4,409 691,411.1 687,418.6 683,418.6 681,422 680.2,425 680.7,427 683,426.7 684.7,429 684.2,439 687,445 685.1,451 685.5,453 688.4,457 693,460.3 696,467 696.5,473 703.7,481 713,485.5 715,484.4 717,484.3 718.3,485 720.9,489 727.5,493 730.9,497 735.1,499 736.4,501 737.5,505 739,506.8 751,511 753,513 753.1,515 373.2,515 377.5,509 382.4,505 382.5,495 385.2,485 386.9,483 391,481.3 393.6,479 397,471 407,461.1 411,459.2 415,459.6 417.5,459 417.5,455 421.5,449 427,434.2 429,432.4 435,429.8 441,423.6 447,421.4 449,422.5 450.9,425 455,425.7 461,430.4 465,432.4 475,439.3 481,441.2 489,442 499,445.6 505,446 511,445.4 525,441.2 535,441.5 545,439.5 551,434.3 563,425.7 567,423.3 573,421.3 581.3,411 583.9,403 582.3,395 583.5,391 583.5,385 586.2,379 586.4,377 584,371 584.7,365 582.2,361 581.8,359 584.4,349 585.8,347 591,346 595,343.7 597,343.4 603,345.5 613,346.3 615,347 617,348.9 619,349.4 625,348.6 629,349.1 655,338.1 659,337.2 665,338.3ZM705,486 704.4,489 705,489.8 707,489.5 707.5,487ZM794.7,475 797,473.8 801,473.8 801,489.1 799,489.7 795,492.8 790.5,487 790,485 790.2,483ZM791.6,509 793,507.5 795,507 796.9,509 796.4,511 793.9,513 793.6,515 787.7,515 790,513ZM800,511 801,510.5 801,515 796.1,515Z"/>
<path fill="#1C3F94" d="M671.9,341 681,340.1 695,345.5 701,350.8 702.5,353 704.6,361 708.3,367 708.7,369 707.9,371 705,375.6 703.7,379 703.3,385 697,393 695.2,397 691,400.2 684.1,403 681,405.8 677,406.1 675.9,407 675.3,409 675.7,419 675.3,421 672.1,425 671.3,427 670.7,439 679.5,459 678.8,463 681,463.7 684.3,467 687,473.9 687.4,477 686.6,479 682.4,481 680.9,483 682.8,489 689,490.4 695,490 696,491 695.9,493 699,496.4 700.3,499 700.3,503 703,509.4 705,511.5 707,511.6 711,506.9 713,507.3 715.5,511 716.5,515 628.5,515 628.6,513 627,507.8 625.8,505 621.9,501 620.9,497 618.5,495 611,490.9 607,490.4 605,490.4 603,491.5 599,500.4 597,500.6 593,497.3 589,495.3 583.8,497 582.7,499 583.2,505 581.4,511 582,515 411.2,515 411.7,511 411,508.4 409,508.2 408.1,511 408.4,515 398,515 398.6,513 396.8,511 398.6,505 396.9,501 403,500.5 405,499.7 406.9,497 407.2,495 406.3,491 407.2,489 414.7,483 417,476.3 419,474.2 423,471.9 427,470.9 429.4,469 432.4,463 433,459 436.9,453 437,445 443,434.9 453,432.6 461,435.7 467,439.6 475,443.1 489,445.3 497,449.6 507,450.5 517,448.3 523,446.2 529,447.4 539,446.8 547,442.8 555.3,435 575,424.3 582.7,417 589,412.9 591.2,407 588.1,397 588.1,387 591.1,381 590.8,375 593,366.2 595,363.7 600.3,361 603,358.2 605,357.2 611,356.9 617,357.6 621,357.1 625,355.5 631,355 637,351.2 643,350.1 653,345.5 659,341.9 665,342.4ZM641,393.5 639.2,395 636.8,399 637,401.3 639,401.9 642.7,401 642,397 642.6,395ZM663,504.5 662.7,505 663,506.3 663.8,505ZM594.9,355 596.6,357 596.1,359 595,360.3 593,360.9 591,360.4 590.4,359 591.7,357ZM720.1,503 721,501.6 723.2,503 723,503.6 721,504.2ZM610,507 611,506 613,505.9 613.9,507 613.6,509 613,509.7 611,508.7ZM717.8,515 719,514.5 721.4,515 721,515Z"/>
<path fill="#182C8C" d="M666.4,347 673,345.9 677,347.1 683,347.3 691,350.3 696,357 698.9,365 700.1,375 695.6,385 687,393.8 683,395.9 677,397.4 673,400.7 671,401.3 665,399.6 663,398.6 661.9,397 661.6,395 660.3,393 653.6,389 649,383.9 633,374.9 632.2,375 631,379 629,377.6 627,377.3 625,378.2 623.6,381 621,383 617,384.3 614.3,383 613.2,381 615,376 619.6,375 616.3,371 617,368.5 625,365.9 627,364.1 628.4,361 631,359.6 635,358.4 641,358.2 651.8,351 659,348.3 663,348.3ZM609.5,371 611.7,371 612.1,373 609,373.5 608.5,373ZM601,383 603,385.3 604.4,389 604.8,395 603,397.6 601,397.7 600.3,397 597.4,389 597.7,385 599,383.5ZM602.6,407 607,406 611,406.1 621,407.8 622.4,409 627.8,419 631,421.9 633,422.2 635,421.2 635.8,419 635.7,417 637,415.6 639,416.1 643,419.5 649,419.1 652.4,421 653.1,423 653,427.3 652.1,429 649,431.6 647.8,435 649.6,449 651.9,455 651,456.8 649,457.3 645,455.4 643,456.3 644.4,461 642.7,467 641,470.3 637,472.6 625,475.8 621,479.7 619,480.3 615,478.9 611,479.6 605,478.5 599.8,479 591,482.2 585,485.6 581,489.4 577,491.2 575.1,493 574.6,495 574.9,499 577.5,505 576.1,509 576.5,515 430.4,515 433.2,511 434.3,505 432.1,495 432.1,491 435.2,481 435.5,477 437.2,475 437.6,469 443,465 441.2,461 441.6,459 444,453 444.4,449 447,445.6 453,443.1 461,441.7 467,444.2 471,444.8 477,447.2 485,448.6 493,452 505,455.1 513,453 525,455.1 531,452.5 535,454.5 537,454.6 543,451 556.5,439 571,430.6 577,428.8 579,427.4 583,423.5 594.1,415 597,411.6 601.4,409ZM640.1,511 641,510.5 643,511.2 645,512.9 647,513.5 651,511.7 652.7,515 637.4,515 637.9,513ZM667,515 669,514 671.1,515 671,515Z"/>
<path fill="#141C84" d="M671.2,351 681,352.1 683,353.9 687,355.2 689,356.7 694.7,373 692.5,381 690.7,383 687,384.5 679,384.2 674.1,385 670.9,387 669,390.3 667,390.4 663.8,385 664.3,381 666.8,377 667,375 666.3,369 665,367.2 659,364.1 653,363.6 651,364.4 649,368.5 647,368.3 645.7,367 646.1,365 651,361.7 655,356.5 663,355.6ZM606.4,419 611,418.6 613,421.5 617,422.7 618.5,425 619.4,429 621,430.7 629,433.5 633,431.8 635,432.9 634.4,439 631.2,443 633,449 632.7,455 631,456.8 626.8,457 624.7,459 623,462.6 617,461 613,461.1 611.8,463 611.5,467 609,468.9 605,467.6 603,468.1 599,470.6 597,470.8 593,469.7 589,470 586.6,471 584.3,473 583,476.2 581,476.4 571,473.8 568.7,477 569.9,483 567.3,489 569.9,503 569.6,515 442.2,515 444.7,513 445.2,507 442.8,501 444.1,493 441,489.6 440.8,487 443,483.7 447,481.7 448.8,479 448.1,475 448.7,469 447.9,461 449,458 452.2,455 454.2,451 457,448.6 459,448.2 467,450.3 471,450.1 485,453.1 497,456.5 503,459.2 511,458.7 521,459.8 531.3,467 531.2,471 529.2,473 528.4,475 529,476 531,476.3 538.5,471 547.3,461 546.1,457 547,455 554.8,447 558.2,445 565.4,439 573,434.3 583,432.3 593,427.7 597,429.5 597.7,427 596.9,423 597.4,421Z"/>
<path fill="#0C0C78" d="M674.6,359 679,358.5 681,359.3 684.7,363 688.3,369 688.6,371 688,375 686.7,377 683,378.6 681,378.2 673,373 671.4,371 670.2,365 670.8,361 673,359.3ZM609.4,435 611,434.6 613,435.9 614.7,439 615,445 617.4,449 612.2,451 609,454.7 604.6,457 601,461.8 599,462.9 593,460.7 581,464.3 578.2,463 577.6,461 575.3,459 569,455.3 565,457.4 559.1,457 559.1,455 560.5,453 561.9,449 568.4,445 570.1,441 573,439.2 583,439.2 593,436.9 595,437 599,439.6 601,439.5 605,435.7ZM465.5,457 467,456.1 471,456.1 491,458.5 497,461.2 501,465 505,466.1 507,468.1 509,473.5 511,475 515,475.5 517.4,477 519.7,491 523,492.3 533,493.6 535,494.5 535.8,497 536,501 537,502.1 543,502.1 549,506.2 551.4,507 553,508.3 554,511 557,515 497.8,515 497,513.8 495,513.3 491.5,515 473.4,515 472.2,513 471,512.4 467,512.6 461,509.6 459,505 456.2,503 456.9,501 459,500.4 460.5,499 460.7,497 459.5,495 456.5,493 455,491 455.1,489 457.6,485 458.5,481 458.1,479 455.4,475 457,472.3 459.5,471 460,469 457,466.5 457,462.9 461,461.6ZM554.6,487 555.1,487 555,489.5 553.3,489Z"/><path fill="#fff" d="M776,83L783.5,110 794,112 794,66 783,74ZM655,44L694,37.6 694,28 655,28ZM246.5,174L237.6,203.6 218,205 218,168Z"/></g><use href="#outB" fill="none" stroke="#000" stroke-width="1.7" stroke-linejoin="round"/><g fill="none" stroke="#2c3c2c" stroke-width="1.45"><path d="M230,211C232.5,212.3 240.4,216.2 245,219C249.6,221.8 253.3,224.8 257.5,227.5C261.7,230.2 265.8,232.9 270,235C274.2,237.1 277.1,237.5 282.5,240C287.9,242.5 296.2,246.7 302.5,250C308.8,253.3 314.6,257.5 320,260C325.4,262.5 330,264 335,265C340,266 345.4,266.2 350,266C354.6,265.8 358.8,265.4 362.5,264C366.2,262.6 369.2,260.7 372.5,257.5C375.8,254.3 378.8,248.8 382.5,245C386.2,241.2 391.2,237.5 395,235C398.8,232.5 400.8,231.2 405,230C409.2,228.8 414.2,227.6 420,227.5C425.8,227.4 433.3,228.4 440,229.5C446.7,230.6 453.8,232.1 460,234C466.2,235.9 471.7,237.9 477.5,241C483.3,244.1 490,248.7 495,252.5C500,256.3 504,260.4 507.5,264C511,267.6 514.1,271.5 516,274C517.9,276.5 518.5,278.2 519,279"/><path d="M519,279C520.8,277.5 525.7,272.3 530,270C534.3,267.7 540,266.5 545,265C550,263.5 555.4,262.7 560,261C564.6,259.3 567.5,258.5 572.5,255C577.5,251.5 583.8,245.4 590,240C596.2,234.6 602.9,228.8 610,222.5C617.1,216.2 625.4,208.8 632.5,202.5C639.6,196.2 647.8,189.1 652.5,185C657.2,180.9 657.9,180.3 661,178C664.1,175.7 668,173.6 671,171C674,168.4 676.8,166.4 679,162.5C681.2,158.6 683.2,152.9 684,147.5C684.8,142.1 684.5,136.2 684,130C683.5,123.8 682.5,116.2 681,110C679.5,103.8 677.2,98.3 675,92.5C672.8,86.7 670,80.4 667.5,75C665,69.6 661.8,63.8 660,60C658.2,56.2 657.5,53.3 657,52"/><path d="M671,171C672.1,172.5 675.6,176.8 677.5,180C679.4,183.2 681.3,187 682.5,190C683.7,193 684.2,196.7 684.5,198"/><path d="M519,279C519.2,280.8 519.8,284.7 520,290C520.2,295.3 520.4,305.2 520,311C519.6,316.8 518.2,320.7 517.5,325C516.8,329.3 516.9,332.5 516,337C515.1,341.5 513.5,348 512,352C510.5,356 509,358.5 507,361C505,363.5 502.8,365.5 500,367C497.2,368.5 495,369.9 490,370C485,370.1 476.7,369.2 470,367.5C463.3,365.8 455.8,362.1 450,360C444.2,357.9 440,356 435,355C430,354 425,353.6 420,354C415,354.4 409.6,355.7 405,357.5C400.4,359.3 396,362.1 392.5,365C389,367.9 385.4,373.3 384,375"/><path d="M520,311C522.1,311.3 528.3,312.5 532.5,313C536.7,313.5 538.8,314 545,314C551.2,314 561.7,313.5 570,313C578.3,312.5 586.7,311.5 595,311C603.3,310.5 613.3,310.2 620,310C626.7,309.8 632,309 635,310C638,311 637.2,314.3 638,316C638.8,317.7 638,319.3 640,320C642,320.7 646.7,321.2 650,320C653.3,318.8 656.7,315.4 660,312.5C663.3,309.6 666.2,306.2 670,302.5C673.8,298.8 679.5,293 682.5,290C685.5,287 687.1,285.4 688,284.5"/><path d="M542.5,314C545,315.2 552.5,318.3 557.5,321C562.5,323.7 568.8,327.7 572.5,330C576.2,332.3 579.2,332.8 580,335C580.8,337.2 578.2,340.1 577,343C575.8,345.9 572.3,349.7 572.5,352.5C572.7,355.3 576.1,357.4 578,360C579.9,362.6 583.5,365.5 584,368C584.5,370.5 581.2,370.1 581,375C580.8,379.9 583.5,390.8 582.5,397.5C581.5,404.2 578.8,409.6 575,415C571.2,420.4 564.6,425.4 560,430C555.4,434.6 549.6,440.4 547.5,442.5"/></g><g id="islB" fill="#000"><circle cx="705" cy="230" r="0.9"/><circle cx="708" cy="233" r="0.9"/><circle cx="712" cy="236" r="0.9"/><circle cx="699" cy="256" r="0.9"/><circle cx="734" cy="440" r="0.9"/><circle cx="733" cy="446" r="0.9"/><circle cx="731" cy="395" r="0.9"/><circle cx="620" cy="515" r="0.9"/><circle cx="624" cy="517" r="0.9"/><circle cx="657" cy="463" r="0.9"/><circle cx="583" cy="467" r="0.9"/><circle cx="589" cy="476" r="0.9"/><circle cx="712" cy="426" r="1.2"/><circle cx="711.5" cy="429" r="1"/><circle cx="610" cy="520" r="0.7"/><circle cx="628" cy="512" r="0.7"/><circle cx="717.3" cy="325.5" r="0.9"/><circle cx="716.7" cy="328.8" r="0.8"/><circle cx="714.1" cy="331.6" r="0.6"/><circle cx="711.3" cy="333.9" r="0.6"/><circle cx="713.9" cy="338.2" r="0.6"/><circle cx="716.8" cy="337.4" r="1.1"/><circle cx="723.7" cy="335.1" r="1.1"/><circle cx="729.3" cy="333.8" r="0.7"/><circle cx="724.8" cy="336.5" r="0.7"/><circle cx="723.5" cy="342.1" r="0.9"/><circle cx="723.5" cy="345" r="0.9"/><circle cx="722.2" cy="346.2" r="0.7"/><circle cx="722.1" cy="351.9" r="0.7"/><circle cx="720.8" cy="355.4" r="0.7"/><circle cx="720.1" cy="360" r="0.7"/><circle cx="717.8" cy="362.1" r="1.1"/><circle cx="715.2" cy="365.4" r="1.1"/><circle cx="715.2" cy="366.9" r="1"/><circle cx="714.2" cy="370.5" r="0.6"/><circle cx="713.9" cy="376" r="0.9"/><circle cx="710.1" cy="379.2" r="1"/><circle cx="710.5" cy="382" r="0.8"/><circle cx="711.4" cy="387" r="0.8"/><circle cx="706.2" cy="388.3" r="1"/><circle cx="709.6" cy="393.2" r="1"/><circle cx="705.5" cy="394" r="1"/><circle cx="705.3" cy="397.2" r="0.7"/><circle cx="702.6" cy="401.7" r="1"/><circle cx="700.4" cy="404.3" r="0.8"/><circle cx="695.8" cy="407.7" r="0.8"/><circle cx="696.9" cy="412.2" r="1"/><circle cx="691.2" cy="413" r="0.8"/><circle cx="692.4" cy="416.7" r="1.1"/><circle cx="687.9" cy="416.1" r="0.7"/><circle cx="686.2" cy="420.8" r="0.9"/><circle cx="682" cy="423.6" r="0.8"/><circle cx="679.5" cy="428" r="1.1"/><circle cx="674.9" cy="431.1" r="0.9"/><circle cx="670.6" cy="432.2" r="1.1"/><circle cx="669.3" cy="438.2" r="1"/><circle cx="665.6" cy="437.4" r="0.6"/><circle cx="660.5" cy="439.6" r="0.6"/><circle cx="658.5" cy="441.2" r="0.8"/><circle cx="655.2" cy="443.1" r="0.6"/><circle cx="652.2" cy="446.2" r="0.6"/><circle cx="647" cy="451.2" r="0.6"/><circle cx="643.7" cy="450.2" r="0.8"/><circle cx="639.6" cy="452.2" r="1.1"/><circle cx="637.9" cy="449.7" r="0.6"/><circle cx="635.9" cy="451" r="0.7"/><circle cx="630.1" cy="454.7" r="0.6"/><circle cx="627.1" cy="457.9" r="0.6"/><circle cx="624.3" cy="457.3" r="0.9"/><circle cx="619.3" cy="462.8" r="1"/><circle cx="617.6" cy="460.1" r="0.7"/><circle cx="611.4" cy="462.2" r="1"/><circle cx="609.3" cy="461.4" r="1"/><circle cx="605" cy="466.8" r="1"/><circle cx="602" cy="467.2" r="0.7"/><circle cx="734.2" cy="190.6" r="0.5"/><circle cx="732.2" cy="192.4" r="0.6"/><circle cx="727.6" cy="200.3" r="0.7"/><circle cx="723" cy="206" r="0.9"/><circle cx="718.7" cy="206" r="0.6"/><circle cx="714.6" cy="208.1" r="0.7"/><circle cx="708.8" cy="214.4" r="0.7"/><circle cx="705.8" cy="217" r="0.5"/><circle cx="700.2" cy="221.9" r="0.8"/></g><g fill="none" stroke="#707070" stroke-opacity="0.6" stroke-width="0.75" stroke-dasharray="5 1 1 1"><path d="M154,26L82,172"/><path d="M413,26L327,591"/><path d="M651,26L737,591"/><path d="M909.5,26L938,78"/><path d="M82,257A1098,1098 0 0 0 938,276.5"/></g><g stroke="#000" stroke-width="1.6"><path d="M154,26v4"/><path d="M413,26v4"/><path d="M651,26v4"/><path d="M909.5,26v4"/><path d="M327,591v-4"/><path d="M737,591v-4"/><path d="M82,257h4.5"/><path d="M938,276.5h-4.5"/></g><g font-family="Liberation Serif, serif" font-size="15.5" fill="#111" text-anchor="middle"><text x="155" y="18">60° E</text><text x="413" y="18">90° E</text><text x="651" y="18">120° E</text><text x="911" y="18">150° E</text><text x="327" y="610">90° E</text><text x="737" y="610">120° E</text><text transform="translate(75,257.5) rotate(-90)">30° N</text><text transform="translate(956.5,276.7) rotate(-90)">30° N</text></g><text x="89" y="432.5" font-family="Noto Serif CJK SC, Liberation Serif, serif" font-size="23.3" font-weight="500" fill="#111">Legend</text><text x="88" y="460" font-family="Liberation Serif, serif" font-size="18" fill="#111">Unit: mm</text><g stroke="#6b6b6b" stroke-width="1"><rect x="87.5" y="575" width="20.8" height="11" fill="#0C0C78"/><rect x="108.3" y="575" width="20.8" height="11" fill="#141C84"/><rect x="129.1" y="575" width="20.8" height="11" fill="#182C8C"/><rect x="149.9" y="575" width="20.8" height="11" fill="#1C3F94"/><rect x="170.7" y="575" width="20.8" height="11" fill="#1C5C9C"/><rect x="191.4" y="575" width="20.8" height="11" fill="#1C7CA4"/><rect x="212.2" y="575" width="20.8" height="11" fill="#1A90A8"/><rect x="233" y="575" width="20.8" height="11" fill="#24A090"/><rect x="253.8" y="575" width="20.8" height="11" fill="#2CA878"/><rect x="274.6" y="575" width="20.8" height="11" fill="#30B060"/><rect x="295.4" y="575" width="20.8" height="11" fill="#38BA50"/><rect x="316.2" y="575" width="20.8" height="11" fill="#3CC83E"/><rect x="337" y="575" width="20.8" height="11" fill="#2EDC0E"/><rect x="357.8" y="575" width="20.8" height="11" fill="#50E422"/><rect x="378.6" y="575" width="20.8" height="11" fill="#74E838"/><rect x="399.3" y="575" width="20.8" height="11" fill="#94EC48"/><rect x="420.1" y="575" width="20.8" height="11" fill="#B4F058"/><rect x="440.9" y="575" width="20.8" height="11" fill="#DAF566"/><rect x="461.7" y="575" width="20.8" height="11" fill="#FEFE7A"/></g><g font-family="Liberation Serif, serif" font-size="18" fill="#111" text-anchor="middle"><text transform="translate(104.6,523) rotate(-90)">>1,800</text><text transform="translate(125.4,523) rotate(-90)">1,700 - 1,800</text><text transform="translate(146.2,523) rotate(-90)">1,600 - 1,700</text><text transform="translate(167,523) rotate(-90)">1,500 - 1,600</text><text transform="translate(187.8,523) rotate(-90)">1,400 - 1,500</text><text transform="translate(208.5,523) rotate(-90)">1,300 - 1,400</text><text transform="translate(229.3,523) rotate(-90)">1,200 - 1,300</text><text transform="translate(250.1,523) rotate(-90)">1,100 - 1,200</text><text transform="translate(270.9,523) rotate(-90)">1,000 - 1,100</text><text transform="translate(291.7,523) rotate(-90)">900 - 1,000</text><text transform="translate(312.5,523) rotate(-90)">800 - 900</text><text transform="translate(333.3,523) rotate(-90)">700 - 800</text><text transform="translate(354.1,523) rotate(-90)">600 - 700</text><text transform="translate(374.9,523) rotate(-90)">500 - 600</text><text transform="translate(395.6,523) rotate(-90)">400 - 500</text><text transform="translate(416.4,523) rotate(-90)">300 - 400</text><text transform="translate(437.2,523) rotate(-90)">200 - 300</text><text transform="translate(458,523) rotate(-90)">100 - 200</text><text transform="translate(478.8,523) rotate(-90)">&lt; 100</text></g><path d="M525.2,566V575H641.8V566M583.4,566V575" fill="none" stroke="#111" stroke-width="1.9"/><g font-family="Liberation Serif, serif" font-size="18.5" fill="#111" text-anchor="middle"><text x="525.8" y="556.8">0</text><text x="583.4" y="556.8">500</text><text x="641.6" y="556.8">1,000</text><text x="691.8" y="556.8">KM</text></g><clipPath id="icB"><rect x="767" y="340.5" width="134.5" height="208"/></clipPath><g clip-path="url(#icB)"><g transform="translate(448.7,136) scale(0.568)"><use href="#fillB"/><use href="#outB" fill="none" stroke="#000" stroke-width="2.4" stroke-linejoin="round"/><use href="#islB"/></g></g><g fill="none" stroke="#111" stroke-width="2" stroke-dasharray="3.2 3.2"><path d="M783.2,340.5L786.2,398.4 788.2,440 790.2,478.2 793.2,548.4"/><path d="M846.4,340.5L852.4,370.2 856.5,402.4 861.5,441 866.5,472.1 872.5,506.3 877.6,548.4"/><path d="M764,409.8L800.2,407.4 856.5,402.4 902.7,393.9"/><path d="M764,479.6L790.2,478.2 824.3,476.1 866.5,472.1 902.7,465.1"/><path d="M764,545.4L793.2,544.4 830.4,541.4 876.5,535.4 902.7,531.8"/></g><g stroke="#707070" stroke-width="1.5" fill="none"><path d="M868.5,367.2L869.5,375.3"/><path d="M867.5,388.3L863.5,395.3"/><path d="M854.5,411.4L857.5,417.4"/><path d="M852.4,430.5L854.5,438.5"/><path d="M857.5,458.1L854.5,467.1"/><path d="M839.4,488.2L834.4,495.2"/><path d="M815.3,518.9L806.9,522.3"/><path d="M776.7,498.8L777.8,505.9"/><path d="M791.2,464.1L790.2,470.1"/><path d="M783.2,435.5L788.2,442.5"/></g><rect x="767" y="340.5" width="134.5" height="208" fill="none" stroke="#000" stroke-width="1.8"/><g stroke="#000" stroke-width="1.8"><path d="M783.2,336v5M846.4,336v5M793.2,548v5M877.6,548v5M763,409.8h4M763,479.6h4M763,545.4h4M901,393.9h4M901,465.1h4M901,531.8h4"/></g><g font-family="Liberation Serif, serif" font-size="14" fill="#111" text-anchor="middle"><text x="783.5" y="335.5">110°E</text><text x="848" y="335.5">120°E</text><text x="794" y="563.5">110°E</text><text x="879" y="563.5">120°E</text><text transform="translate(761.5,410) rotate(-90)">20°N</text><text transform="translate(761.5,479) rotate(-90)">10°N</text><text transform="translate(761.5,546) rotate(-90)">0°</text><text transform="translate(916.7,393.7) rotate(-90)">20°N</text><text transform="translate(916.7,465) rotate(-90)">10°N</text><text transform="translate(916.7,532) rotate(-90)">0°</text></g><rect x="82" y="25.5" width="856" height="566" fill="none" stroke="#000" stroke-width="2.6"/></g>
<text y="645.8" font-family="Liberation Serif, Noto Serif CJK SC, serif" font-size="24.4" fill="#111"><tspan x="0" textLength="360.5" lengthAdjust="spacingAndGlyphs">a). mean of annual total precipitation</tspan><tspan x="349.3">（</tspan><tspan x="373.7" textLength="579.5" lengthAdjust="spacingAndGlyphs">1961-2015, calculated on ANUSPLIN precipitation surface</tspan><tspan x="953">）</tspan></text>
<text y="1330.8" font-family="Liberation Serif, Noto Serif CJK SC, serif" font-size="24.4" fill="#111"><tspan x="27.3" textLength="361.4" lengthAdjust="spacingAndGlyphs">b). mean of annual total precipitation</tspan><tspan x="379.3">（</tspan><tspan x="404.7" textLength="582.8" lengthAdjust="spacingAndGlyphs">1961-2015, calculated on inverse distance weighting output</tspan><tspan x="987">）</tspan></text>
</svg></body></html>
